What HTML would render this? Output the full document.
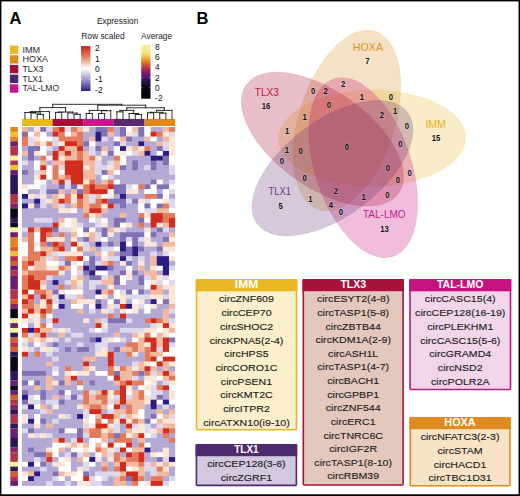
<!DOCTYPE html>
<html><head><meta charset="utf-8"><style>
html,body{margin:0;padding:0;background:#fff;}
body{width:520px;height:496px;overflow:hidden;}
svg{display:block;font-family:"Liberation Sans",sans-serif;}
.n{font-size:8.6px;font-weight:bold;text-anchor:middle;fill:#111;stroke:#fff;stroke-opacity:0.22;stroke-width:1.6px;paint-order:stroke;}
.vl{font-size:10.6px;text-anchor:middle;}
.bh{font-size:10.5px;font-weight:bold;text-anchor:middle;fill:#fff;}
.bt{font-size:9.75px;text-anchor:middle;fill:#1c1c1c;stroke:#1c1c1c;stroke-width:0.13px;}
.lg{font-size:8.2px;fill:#262626;}
.sm{font-size:8.4px;fill:#222;}
.tk{font-size:8.4px;fill:#111;}
</style></head><body>
<svg width="520" height="496" viewBox="0 0 520 496">
<defs>
<linearGradient id="rs" x1="0" y1="0" x2="0" y2="1">
<stop offset="0" stop-color="#c0261e"/><stop offset="0.25" stop-color="#e3866a"/><stop offset="0.5" stop-color="#ffffff"/><stop offset="0.75" stop-color="#9f95cc"/><stop offset="1" stop-color="#2c2084"/>
</linearGradient>
<linearGradient id="av" x1="0" y1="0" x2="0" y2="1">
<stop offset="0" stop-color="#f8efa0"/><stop offset="0.15" stop-color="#f6e68a"/><stop offset="0.22" stop-color="#f0c040"/><stop offset="0.32" stop-color="#e27a20"/><stop offset="0.41" stop-color="#c03a40"/><stop offset="0.5" stop-color="#8a1f68"/><stop offset="0.61" stop-color="#4a1870"/><stop offset="0.72" stop-color="#1c0c3c"/><stop offset="0.8" stop-color="#0a0614"/><stop offset="1" stop-color="#060408"/>
</linearGradient>
</defs>
<rect width="520" height="496" fill="#fff"/>
<text x="9.6" y="24.4" style="font-size:16.5px;font-weight:bold" fill="#000">A</text>
<text x="196.4" y="24.2" style="font-size:16.5px;font-weight:bold" fill="#000">B</text>
<rect x="9.9" y="45.5" width="8.4" height="8.4" fill="#e8b923"/>
<rect x="9.9" y="55.2" width="8.4" height="8.4" fill="#e08a1e"/>
<rect x="9.9" y="64.9" width="8.4" height="8.4" fill="#a50f37"/>
<rect x="9.9" y="74.6" width="8.4" height="8.4" fill="#4b286e"/>
<rect x="9.9" y="84.3" width="8.4" height="8.4" fill="#c8148c"/>
<text x="22.5" y="52.5" class="lg" textLength="17.6" lengthAdjust="spacingAndGlyphs">IMM</text>
<text x="22.5" y="62.2" class="lg" textLength="25.6" lengthAdjust="spacingAndGlyphs">HOXA</text>
<text x="22.5" y="71.9" class="lg" textLength="20.8" lengthAdjust="spacingAndGlyphs">TLX3</text>
<text x="22.5" y="81.6" class="lg" textLength="20.2" lengthAdjust="spacingAndGlyphs">TLX1</text>
<text x="22.5" y="91.3" class="lg" textLength="36.7" lengthAdjust="spacingAndGlyphs">TAL-LMO</text>
<text x="96.9" y="24.1" class="sm">Expression</text>
<text x="81.3" y="39" class="sm">Row scaled</text>
<text x="141.1" y="39" class="sm">Average</text>
<rect x="81" y="46.1" width="9.5" height="44.9" fill="url(#rs)"/>
<g stroke="#fff" stroke-width="0.6" opacity="0.8">
<path d="M81 58.3h1.6M88.9 58.3h1.6M81 69.2h1.6M88.9 69.2h1.6M81 79.6h1.6M88.9 79.6h1.6"/>
</g>
<text x="95.1" y="50.7" class="tk">2</text>
<text x="95.1" y="61.5" class="tk">1</text>
<text x="95.1" y="72" class="tk">0</text>
<text x="95.1" y="82.3" class="tk">-1</text>
<text x="95.1" y="92.7" class="tk">-2</text>
<rect x="141.2" y="44.9" width="9.3" height="53.8" fill="url(#av)"/>
<g stroke="#fff" stroke-width="0.6" opacity="0.7">
<path d="M141.2 56.5h1.6M148.9 56.5h1.6M141.2 67.1h1.6M148.9 67.1h1.6M141.2 77.4h1.6M148.9 77.4h1.6M141.2 87.7h1.6M148.9 87.7h1.6"/>
</g>
<text x="155.1" y="49.7" class="tk">8</text>
<text x="155.1" y="60" class="tk">6</text>
<text x="155.1" y="70.4" class="tk">4</text>
<text x="155.1" y="80.7" class="tk">2</text>
<text x="155.1" y="91" class="tk">0</text>
<text x="155.1" y="100.9" class="tk">-2</text>
<rect x="21.90" y="127.00" width="6.18" height="5.38" fill="#f2b9a0"/>
<rect x="28.03" y="127.00" width="6.18" height="5.38" fill="#b4a8d4"/>
<rect x="34.16" y="127.00" width="6.18" height="5.38" fill="#fce6d6"/>
<rect x="40.28" y="127.00" width="6.18" height="5.38" fill="#8070b4"/>
<rect x="46.41" y="127.00" width="6.18" height="5.38" fill="#ded8ec"/>
<rect x="52.54" y="127.00" width="6.18" height="5.38" fill="#e37a5c"/>
<rect x="58.67" y="127.00" width="6.18" height="5.38" fill="#d02d1e"/>
<rect x="64.80" y="127.00" width="6.18" height="5.38" fill="#ded8ec"/>
<rect x="70.92" y="127.00" width="6.18" height="5.38" fill="#e37a5c"/>
<rect x="77.05" y="127.00" width="6.18" height="5.38" fill="#f2b9a0"/>
<rect x="83.18" y="127.00" width="6.18" height="5.38" fill="#fce6d6"/>
<rect x="89.31" y="127.00" width="6.18" height="5.38" fill="#b4a8d4"/>
<rect x="95.44" y="127.00" width="12.31" height="5.38" fill="#8070b4"/>
<rect x="107.69" y="127.00" width="6.18" height="5.38" fill="#e37a5c"/>
<rect x="113.82" y="127.00" width="6.18" height="5.38" fill="#b4a8d4"/>
<rect x="119.95" y="127.00" width="6.18" height="5.38" fill="#8070b4"/>
<rect x="126.08" y="127.00" width="6.18" height="5.38" fill="#ffffff"/>
<rect x="132.20" y="127.00" width="6.18" height="5.38" fill="#f2b9a0"/>
<rect x="138.33" y="127.00" width="6.18" height="5.38" fill="#8070b4"/>
<rect x="144.46" y="127.00" width="6.18" height="5.38" fill="#ffffff"/>
<rect x="150.59" y="127.00" width="12.31" height="5.38" fill="#b4a8d4"/>
<rect x="162.84" y="127.00" width="6.18" height="5.38" fill="#f2b9a0"/>
<rect x="168.97" y="127.00" width="6.18" height="5.38" fill="#e37a5c"/>
<rect x="21.90" y="131.78" width="6.18" height="5.38" fill="#8070b4"/>
<rect x="28.03" y="131.78" width="6.18" height="5.38" fill="#ffffff"/>
<rect x="34.16" y="131.78" width="6.18" height="5.38" fill="#f2b9a0"/>
<rect x="40.28" y="131.78" width="6.18" height="5.38" fill="#ffffff"/>
<rect x="46.41" y="131.78" width="6.18" height="5.38" fill="#b4a8d4"/>
<rect x="52.54" y="131.78" width="6.18" height="5.38" fill="#d02d1e"/>
<rect x="58.67" y="131.78" width="6.18" height="5.38" fill="#e37a5c"/>
<rect x="64.80" y="131.78" width="6.18" height="5.38" fill="#ffffff"/>
<rect x="70.92" y="131.78" width="6.18" height="5.38" fill="#f2b9a0"/>
<rect x="77.05" y="131.78" width="6.18" height="5.38" fill="#e37a5c"/>
<rect x="83.18" y="131.78" width="12.31" height="5.38" fill="#b4a8d4"/>
<rect x="95.44" y="131.78" width="6.18" height="5.38" fill="#2d1c80"/>
<rect x="101.56" y="131.78" width="6.18" height="5.38" fill="#8070b4"/>
<rect x="107.69" y="131.78" width="6.18" height="5.38" fill="#f2b9a0"/>
<rect x="113.82" y="131.78" width="6.18" height="5.38" fill="#b4a8d4"/>
<rect x="119.95" y="131.78" width="6.18" height="5.38" fill="#8070b4"/>
<rect x="126.08" y="131.78" width="6.18" height="5.38" fill="#fce6d6"/>
<rect x="132.20" y="131.78" width="6.18" height="5.38" fill="#ded8ec"/>
<rect x="138.33" y="131.78" width="6.18" height="5.38" fill="#8070b4"/>
<rect x="144.46" y="131.78" width="6.18" height="5.38" fill="#ffffff"/>
<rect x="150.59" y="131.78" width="6.18" height="5.38" fill="#d02d1e"/>
<rect x="156.72" y="131.78" width="6.18" height="5.38" fill="#e37a5c"/>
<rect x="162.84" y="131.78" width="6.18" height="5.38" fill="#fce6d6"/>
<rect x="168.97" y="131.78" width="6.18" height="5.38" fill="#ded8ec"/>
<rect x="21.90" y="136.57" width="6.18" height="5.38" fill="#e37a5c"/>
<rect x="28.03" y="136.57" width="6.18" height="5.38" fill="#ded8ec"/>
<rect x="34.16" y="136.57" width="6.18" height="5.38" fill="#fce6d6"/>
<rect x="40.28" y="136.57" width="12.31" height="5.38" fill="#ffffff"/>
<rect x="52.54" y="136.57" width="6.18" height="5.38" fill="#ded8ec"/>
<rect x="58.67" y="136.57" width="24.56" height="5.38" fill="#e37a5c"/>
<rect x="83.18" y="136.57" width="6.18" height="5.38" fill="#b4a8d4"/>
<rect x="89.31" y="136.57" width="6.18" height="5.38" fill="#f2b9a0"/>
<rect x="95.44" y="136.57" width="6.18" height="5.38" fill="#2d1c80"/>
<rect x="101.56" y="136.57" width="6.18" height="5.38" fill="#ded8ec"/>
<rect x="107.69" y="136.57" width="6.18" height="5.38" fill="#b4a8d4"/>
<rect x="113.82" y="136.57" width="6.18" height="5.38" fill="#ffffff"/>
<rect x="119.95" y="136.57" width="6.18" height="5.38" fill="#f2b9a0"/>
<rect x="126.08" y="136.57" width="6.18" height="5.38" fill="#8070b4"/>
<rect x="132.20" y="136.57" width="12.31" height="5.38" fill="#b4a8d4"/>
<rect x="144.46" y="136.57" width="6.18" height="5.38" fill="#f2b9a0"/>
<rect x="150.59" y="136.57" width="6.18" height="5.38" fill="#ffffff"/>
<rect x="156.72" y="136.57" width="6.18" height="5.38" fill="#b4a8d4"/>
<rect x="162.84" y="136.57" width="6.18" height="5.38" fill="#f2b9a0"/>
<rect x="168.97" y="136.57" width="6.18" height="5.38" fill="#fce6d6"/>
<rect x="21.90" y="141.35" width="6.18" height="5.38" fill="#e37a5c"/>
<rect x="28.03" y="141.35" width="6.18" height="5.38" fill="#ded8ec"/>
<rect x="34.16" y="141.35" width="6.18" height="5.38" fill="#f2b9a0"/>
<rect x="40.28" y="141.35" width="6.18" height="5.38" fill="#fce6d6"/>
<rect x="46.41" y="141.35" width="6.18" height="5.38" fill="#e37a5c"/>
<rect x="52.54" y="141.35" width="6.18" height="5.38" fill="#ded8ec"/>
<rect x="58.67" y="141.35" width="6.18" height="5.38" fill="#fce6d6"/>
<rect x="64.80" y="141.35" width="12.31" height="5.38" fill="#d02d1e"/>
<rect x="77.05" y="141.35" width="6.18" height="5.38" fill="#e37a5c"/>
<rect x="83.18" y="141.35" width="6.18" height="5.38" fill="#8070b4"/>
<rect x="89.31" y="141.35" width="6.18" height="5.38" fill="#ffffff"/>
<rect x="95.44" y="141.35" width="18.43" height="5.38" fill="#b4a8d4"/>
<rect x="113.82" y="141.35" width="6.18" height="5.38" fill="#8070b4"/>
<rect x="119.95" y="141.35" width="6.18" height="5.38" fill="#ded8ec"/>
<rect x="126.08" y="141.35" width="12.31" height="5.38" fill="#b4a8d4"/>
<rect x="138.33" y="141.35" width="6.18" height="5.38" fill="#2d1c80"/>
<rect x="144.46" y="141.35" width="12.31" height="5.38" fill="#b4a8d4"/>
<rect x="156.72" y="141.35" width="6.18" height="5.38" fill="#f2b9a0"/>
<rect x="162.84" y="141.35" width="6.18" height="5.38" fill="#ded8ec"/>
<rect x="168.97" y="141.35" width="6.18" height="5.38" fill="#fce6d6"/>
<rect x="21.90" y="146.14" width="6.18" height="5.38" fill="#b4a8d4"/>
<rect x="28.03" y="146.14" width="12.31" height="5.38" fill="#8070b4"/>
<rect x="40.28" y="146.14" width="6.18" height="5.38" fill="#ffffff"/>
<rect x="46.41" y="146.14" width="6.18" height="5.38" fill="#ded8ec"/>
<rect x="52.54" y="146.14" width="6.18" height="5.38" fill="#b4a8d4"/>
<rect x="58.67" y="146.14" width="6.18" height="5.38" fill="#d02d1e"/>
<rect x="64.80" y="146.14" width="12.31" height="5.38" fill="#f2b9a0"/>
<rect x="77.05" y="146.14" width="6.18" height="5.38" fill="#d02d1e"/>
<rect x="83.18" y="146.14" width="6.18" height="5.38" fill="#b4a8d4"/>
<rect x="89.31" y="146.14" width="6.18" height="5.38" fill="#ded8ec"/>
<rect x="95.44" y="146.14" width="6.18" height="5.38" fill="#8070b4"/>
<rect x="101.56" y="146.14" width="6.18" height="5.38" fill="#f2b9a0"/>
<rect x="107.69" y="146.14" width="6.18" height="5.38" fill="#b4a8d4"/>
<rect x="113.82" y="146.14" width="6.18" height="5.38" fill="#ffffff"/>
<rect x="119.95" y="146.14" width="6.18" height="5.38" fill="#2d1c80"/>
<rect x="126.08" y="146.14" width="6.18" height="5.38" fill="#fce6d6"/>
<rect x="132.20" y="146.14" width="6.18" height="5.38" fill="#f2b9a0"/>
<rect x="138.33" y="146.14" width="6.18" height="5.38" fill="#fce6d6"/>
<rect x="144.46" y="146.14" width="6.18" height="5.38" fill="#e37a5c"/>
<rect x="150.59" y="146.14" width="6.18" height="5.38" fill="#b4a8d4"/>
<rect x="156.72" y="146.14" width="6.18" height="5.38" fill="#8070b4"/>
<rect x="162.84" y="146.14" width="6.18" height="5.38" fill="#ded8ec"/>
<rect x="168.97" y="146.14" width="6.18" height="5.38" fill="#fce6d6"/>
<rect x="21.90" y="150.92" width="6.18" height="5.38" fill="#f2b9a0"/>
<rect x="28.03" y="150.92" width="6.18" height="5.38" fill="#8070b4"/>
<rect x="34.16" y="150.92" width="6.18" height="5.38" fill="#fce6d6"/>
<rect x="40.28" y="150.92" width="6.18" height="5.38" fill="#ffffff"/>
<rect x="46.41" y="150.92" width="6.18" height="5.38" fill="#b4a8d4"/>
<rect x="52.54" y="150.92" width="6.18" height="5.38" fill="#d02d1e"/>
<rect x="58.67" y="150.92" width="6.18" height="5.38" fill="#f2b9a0"/>
<rect x="64.80" y="150.92" width="6.18" height="5.38" fill="#d02d1e"/>
<rect x="70.92" y="150.92" width="6.18" height="5.38" fill="#f2b9a0"/>
<rect x="77.05" y="150.92" width="6.18" height="5.38" fill="#e37a5c"/>
<rect x="83.18" y="150.92" width="6.18" height="5.38" fill="#f2b9a0"/>
<rect x="89.31" y="150.92" width="6.18" height="5.38" fill="#ded8ec"/>
<rect x="95.44" y="150.92" width="6.18" height="5.38" fill="#b4a8d4"/>
<rect x="101.56" y="150.92" width="6.18" height="5.38" fill="#fce6d6"/>
<rect x="107.69" y="150.92" width="6.18" height="5.38" fill="#8070b4"/>
<rect x="113.82" y="150.92" width="6.18" height="5.38" fill="#ffffff"/>
<rect x="119.95" y="150.92" width="6.18" height="5.38" fill="#fce6d6"/>
<rect x="126.08" y="150.92" width="6.18" height="5.38" fill="#ffffff"/>
<rect x="132.20" y="150.92" width="6.18" height="5.38" fill="#ded8ec"/>
<rect x="138.33" y="150.92" width="6.18" height="5.38" fill="#f2b9a0"/>
<rect x="144.46" y="150.92" width="6.18" height="5.38" fill="#2d1c80"/>
<rect x="150.59" y="150.92" width="6.18" height="5.38" fill="#b4a8d4"/>
<rect x="156.72" y="150.92" width="6.18" height="5.38" fill="#ffffff"/>
<rect x="162.84" y="150.92" width="6.18" height="5.38" fill="#2d1c80"/>
<rect x="168.97" y="150.92" width="6.18" height="5.38" fill="#fce6d6"/>
<rect x="21.90" y="155.70" width="6.18" height="5.38" fill="#b4a8d4"/>
<rect x="28.03" y="155.70" width="6.18" height="5.38" fill="#8070b4"/>
<rect x="34.16" y="155.70" width="6.18" height="5.38" fill="#b4a8d4"/>
<rect x="40.28" y="155.70" width="6.18" height="5.38" fill="#e37a5c"/>
<rect x="46.41" y="155.70" width="6.18" height="5.38" fill="#ffffff"/>
<rect x="52.54" y="155.70" width="6.18" height="5.38" fill="#d02d1e"/>
<rect x="58.67" y="155.70" width="6.18" height="5.38" fill="#fce6d6"/>
<rect x="64.80" y="155.70" width="12.31" height="5.38" fill="#f2b9a0"/>
<rect x="77.05" y="155.70" width="6.18" height="5.38" fill="#e37a5c"/>
<rect x="83.18" y="155.70" width="6.18" height="5.38" fill="#f2b9a0"/>
<rect x="89.31" y="155.70" width="6.18" height="5.38" fill="#e37a5c"/>
<rect x="95.44" y="155.70" width="6.18" height="5.38" fill="#fce6d6"/>
<rect x="101.56" y="155.70" width="12.31" height="5.38" fill="#b4a8d4"/>
<rect x="113.82" y="155.70" width="6.18" height="5.38" fill="#e37a5c"/>
<rect x="119.95" y="155.70" width="6.18" height="5.38" fill="#ffffff"/>
<rect x="126.08" y="155.70" width="24.56" height="5.38" fill="#b4a8d4"/>
<rect x="150.59" y="155.70" width="12.31" height="5.38" fill="#2d1c80"/>
<rect x="162.84" y="155.70" width="6.18" height="5.38" fill="#8070b4"/>
<rect x="168.97" y="155.70" width="6.18" height="5.38" fill="#ffffff"/>
<rect x="21.90" y="160.49" width="6.18" height="5.38" fill="#ded8ec"/>
<rect x="28.03" y="160.49" width="6.18" height="5.38" fill="#b4a8d4"/>
<rect x="34.16" y="160.49" width="6.18" height="5.38" fill="#ffffff"/>
<rect x="40.28" y="160.49" width="6.18" height="5.38" fill="#f2b9a0"/>
<rect x="46.41" y="160.49" width="6.18" height="5.38" fill="#b4a8d4"/>
<rect x="52.54" y="160.49" width="12.31" height="5.38" fill="#f2b9a0"/>
<rect x="64.80" y="160.49" width="18.43" height="5.38" fill="#d02d1e"/>
<rect x="83.18" y="160.49" width="12.31" height="5.38" fill="#f2b9a0"/>
<rect x="95.44" y="160.49" width="6.18" height="5.38" fill="#ded8ec"/>
<rect x="101.56" y="160.49" width="6.18" height="5.38" fill="#b4a8d4"/>
<rect x="107.69" y="160.49" width="6.18" height="5.38" fill="#ded8ec"/>
<rect x="113.82" y="160.49" width="6.18" height="5.38" fill="#f2b9a0"/>
<rect x="119.95" y="160.49" width="6.18" height="5.38" fill="#ffffff"/>
<rect x="126.08" y="160.49" width="6.18" height="5.38" fill="#b4a8d4"/>
<rect x="132.20" y="160.49" width="6.18" height="5.38" fill="#8070b4"/>
<rect x="138.33" y="160.49" width="12.31" height="5.38" fill="#b4a8d4"/>
<rect x="150.59" y="160.49" width="6.18" height="5.38" fill="#8070b4"/>
<rect x="156.72" y="160.49" width="6.18" height="5.38" fill="#b4a8d4"/>
<rect x="162.84" y="160.49" width="6.18" height="5.38" fill="#8070b4"/>
<rect x="168.97" y="160.49" width="6.18" height="5.38" fill="#ffffff"/>
<rect x="21.90" y="165.27" width="12.31" height="5.38" fill="#b4a8d4"/>
<rect x="34.16" y="165.27" width="6.18" height="5.38" fill="#ffffff"/>
<rect x="40.28" y="165.27" width="6.18" height="5.38" fill="#d02d1e"/>
<rect x="46.41" y="165.27" width="6.18" height="5.38" fill="#ffffff"/>
<rect x="52.54" y="165.27" width="6.18" height="5.38" fill="#e37a5c"/>
<rect x="58.67" y="165.27" width="6.18" height="5.38" fill="#ded8ec"/>
<rect x="64.80" y="165.27" width="18.43" height="5.38" fill="#d02d1e"/>
<rect x="83.18" y="165.27" width="6.18" height="5.38" fill="#fce6d6"/>
<rect x="89.31" y="165.27" width="6.18" height="5.38" fill="#f2b9a0"/>
<rect x="95.44" y="165.27" width="12.31" height="5.38" fill="#ded8ec"/>
<rect x="107.69" y="165.27" width="6.18" height="5.38" fill="#fce6d6"/>
<rect x="113.82" y="165.27" width="6.18" height="5.38" fill="#f2b9a0"/>
<rect x="119.95" y="165.27" width="6.18" height="5.38" fill="#8070b4"/>
<rect x="126.08" y="165.27" width="6.18" height="5.38" fill="#b4a8d4"/>
<rect x="132.20" y="165.27" width="6.18" height="5.38" fill="#8070b4"/>
<rect x="138.33" y="165.27" width="6.18" height="5.38" fill="#b4a8d4"/>
<rect x="144.46" y="165.27" width="6.18" height="5.38" fill="#ded8ec"/>
<rect x="150.59" y="165.27" width="6.18" height="5.38" fill="#8070b4"/>
<rect x="156.72" y="165.27" width="12.31" height="5.38" fill="#b4a8d4"/>
<rect x="168.97" y="165.27" width="6.18" height="5.38" fill="#ded8ec"/>
<rect x="21.90" y="170.06" width="6.18" height="5.38" fill="#8070b4"/>
<rect x="28.03" y="170.06" width="6.18" height="5.38" fill="#b4a8d4"/>
<rect x="34.16" y="170.06" width="6.18" height="5.38" fill="#ded8ec"/>
<rect x="40.28" y="170.06" width="6.18" height="5.38" fill="#f2b9a0"/>
<rect x="46.41" y="170.06" width="6.18" height="5.38" fill="#ffffff"/>
<rect x="52.54" y="170.06" width="6.18" height="5.38" fill="#e37a5c"/>
<rect x="58.67" y="170.06" width="6.18" height="5.38" fill="#ffffff"/>
<rect x="64.80" y="170.06" width="18.43" height="5.38" fill="#d02d1e"/>
<rect x="83.18" y="170.06" width="12.31" height="5.38" fill="#f2b9a0"/>
<rect x="95.44" y="170.06" width="6.18" height="5.38" fill="#ded8ec"/>
<rect x="101.56" y="170.06" width="6.18" height="5.38" fill="#8070b4"/>
<rect x="107.69" y="170.06" width="6.18" height="5.38" fill="#f2b9a0"/>
<rect x="113.82" y="170.06" width="6.18" height="5.38" fill="#ffffff"/>
<rect x="119.95" y="170.06" width="49.07" height="5.38" fill="#b4a8d4"/>
<rect x="168.97" y="170.06" width="6.18" height="5.38" fill="#ded8ec"/>
<rect x="21.90" y="174.84" width="12.31" height="5.38" fill="#b4a8d4"/>
<rect x="34.16" y="174.84" width="6.18" height="5.38" fill="#fce6d6"/>
<rect x="40.28" y="174.84" width="6.18" height="5.38" fill="#d02d1e"/>
<rect x="46.41" y="174.84" width="6.18" height="5.38" fill="#ffffff"/>
<rect x="52.54" y="174.84" width="6.18" height="5.38" fill="#e37a5c"/>
<rect x="58.67" y="174.84" width="6.18" height="5.38" fill="#f2b9a0"/>
<rect x="64.80" y="174.84" width="6.18" height="5.38" fill="#e37a5c"/>
<rect x="70.92" y="174.84" width="12.31" height="5.38" fill="#d02d1e"/>
<rect x="83.18" y="174.84" width="12.31" height="5.38" fill="#f2b9a0"/>
<rect x="95.44" y="174.84" width="6.18" height="5.38" fill="#b4a8d4"/>
<rect x="101.56" y="174.84" width="6.18" height="5.38" fill="#ffffff"/>
<rect x="107.69" y="174.84" width="6.18" height="5.38" fill="#ded8ec"/>
<rect x="113.82" y="174.84" width="61.33" height="5.38" fill="#b4a8d4"/>
<rect x="21.90" y="179.62" width="12.31" height="5.38" fill="#b4a8d4"/>
<rect x="34.16" y="179.62" width="12.31" height="5.38" fill="#ffffff"/>
<rect x="46.41" y="179.62" width="6.18" height="5.38" fill="#b4a8d4"/>
<rect x="52.54" y="179.62" width="6.18" height="5.38" fill="#f2b9a0"/>
<rect x="58.67" y="179.62" width="6.18" height="5.38" fill="#d02d1e"/>
<rect x="64.80" y="179.62" width="6.18" height="5.38" fill="#ded8ec"/>
<rect x="70.92" y="179.62" width="12.31" height="5.38" fill="#d02d1e"/>
<rect x="83.18" y="179.62" width="6.18" height="5.38" fill="#fce6d6"/>
<rect x="89.31" y="179.62" width="6.18" height="5.38" fill="#e37a5c"/>
<rect x="95.44" y="179.62" width="6.18" height="5.38" fill="#b4a8d4"/>
<rect x="101.56" y="179.62" width="6.18" height="5.38" fill="#f2b9a0"/>
<rect x="107.69" y="179.62" width="6.18" height="5.38" fill="#e37a5c"/>
<rect x="113.82" y="179.62" width="6.18" height="5.38" fill="#ffffff"/>
<rect x="119.95" y="179.62" width="30.69" height="5.38" fill="#b4a8d4"/>
<rect x="150.59" y="179.62" width="6.18" height="5.38" fill="#8070b4"/>
<rect x="156.72" y="179.62" width="6.18" height="5.38" fill="#ffffff"/>
<rect x="162.84" y="179.62" width="6.18" height="5.38" fill="#b4a8d4"/>
<rect x="168.97" y="179.62" width="6.18" height="5.38" fill="#ded8ec"/>
<rect x="21.90" y="184.41" width="6.18" height="5.38" fill="#fce6d6"/>
<rect x="28.03" y="184.41" width="12.31" height="5.38" fill="#ffffff"/>
<rect x="40.28" y="184.41" width="6.18" height="5.38" fill="#ded8ec"/>
<rect x="46.41" y="184.41" width="12.31" height="5.38" fill="#b4a8d4"/>
<rect x="58.67" y="184.41" width="6.18" height="5.38" fill="#8070b4"/>
<rect x="64.80" y="184.41" width="6.18" height="5.38" fill="#ded8ec"/>
<rect x="70.92" y="184.41" width="6.18" height="5.38" fill="#8070b4"/>
<rect x="77.05" y="184.41" width="6.18" height="5.38" fill="#fce6d6"/>
<rect x="83.18" y="184.41" width="6.18" height="5.38" fill="#e37a5c"/>
<rect x="89.31" y="184.41" width="6.18" height="5.38" fill="#d02d1e"/>
<rect x="95.44" y="184.41" width="12.31" height="5.38" fill="#e37a5c"/>
<rect x="107.69" y="184.41" width="6.18" height="5.38" fill="#d02d1e"/>
<rect x="113.82" y="184.41" width="12.31" height="5.38" fill="#8070b4"/>
<rect x="126.08" y="184.41" width="6.18" height="5.38" fill="#ded8ec"/>
<rect x="132.20" y="184.41" width="6.18" height="5.38" fill="#ffffff"/>
<rect x="138.33" y="184.41" width="6.18" height="5.38" fill="#e37a5c"/>
<rect x="144.46" y="184.41" width="6.18" height="5.38" fill="#8070b4"/>
<rect x="150.59" y="184.41" width="6.18" height="5.38" fill="#ffffff"/>
<rect x="156.72" y="184.41" width="12.31" height="5.38" fill="#8070b4"/>
<rect x="168.97" y="184.41" width="6.18" height="5.38" fill="#ffffff"/>
<rect x="21.90" y="189.19" width="6.18" height="5.38" fill="#ffffff"/>
<rect x="28.03" y="189.19" width="12.31" height="5.38" fill="#b4a8d4"/>
<rect x="40.28" y="189.19" width="6.18" height="5.38" fill="#ded8ec"/>
<rect x="46.41" y="189.19" width="12.31" height="5.38" fill="#8070b4"/>
<rect x="58.67" y="189.19" width="6.18" height="5.38" fill="#f2b9a0"/>
<rect x="64.80" y="189.19" width="6.18" height="5.38" fill="#b4a8d4"/>
<rect x="70.92" y="189.19" width="6.18" height="5.38" fill="#f2b9a0"/>
<rect x="77.05" y="189.19" width="6.18" height="5.38" fill="#8070b4"/>
<rect x="83.18" y="189.19" width="6.18" height="5.38" fill="#e37a5c"/>
<rect x="89.31" y="189.19" width="18.43" height="5.38" fill="#d02d1e"/>
<rect x="107.69" y="189.19" width="6.18" height="5.38" fill="#ffffff"/>
<rect x="113.82" y="189.19" width="12.31" height="5.38" fill="#8070b4"/>
<rect x="126.08" y="189.19" width="12.31" height="5.38" fill="#fce6d6"/>
<rect x="138.33" y="189.19" width="6.18" height="5.38" fill="#b4a8d4"/>
<rect x="144.46" y="189.19" width="12.31" height="5.38" fill="#ffffff"/>
<rect x="156.72" y="189.19" width="6.18" height="5.38" fill="#b4a8d4"/>
<rect x="162.84" y="189.19" width="6.18" height="5.38" fill="#ffffff"/>
<rect x="168.97" y="189.19" width="6.18" height="5.38" fill="#ded8ec"/>
<rect x="21.90" y="193.98" width="6.18" height="5.38" fill="#2d1c80"/>
<rect x="28.03" y="193.98" width="6.18" height="5.38" fill="#fce6d6"/>
<rect x="34.16" y="193.98" width="6.18" height="5.38" fill="#ded8ec"/>
<rect x="40.28" y="193.98" width="6.18" height="5.38" fill="#fce6d6"/>
<rect x="46.41" y="193.98" width="6.18" height="5.38" fill="#b4a8d4"/>
<rect x="52.54" y="193.98" width="6.18" height="5.38" fill="#f2b9a0"/>
<rect x="58.67" y="193.98" width="6.18" height="5.38" fill="#fce6d6"/>
<rect x="64.80" y="193.98" width="6.18" height="5.38" fill="#e37a5c"/>
<rect x="70.92" y="193.98" width="6.18" height="5.38" fill="#fce6d6"/>
<rect x="77.05" y="193.98" width="6.18" height="5.38" fill="#d02d1e"/>
<rect x="83.18" y="193.98" width="6.18" height="5.38" fill="#f2b9a0"/>
<rect x="89.31" y="193.98" width="6.18" height="5.38" fill="#ded8ec"/>
<rect x="95.44" y="193.98" width="6.18" height="5.38" fill="#f2b9a0"/>
<rect x="101.56" y="193.98" width="6.18" height="5.38" fill="#ffffff"/>
<rect x="107.69" y="193.98" width="6.18" height="5.38" fill="#fce6d6"/>
<rect x="113.82" y="193.98" width="6.18" height="5.38" fill="#b4a8d4"/>
<rect x="119.95" y="193.98" width="6.18" height="5.38" fill="#2d1c80"/>
<rect x="126.08" y="193.98" width="18.43" height="5.38" fill="#b4a8d4"/>
<rect x="144.46" y="193.98" width="12.31" height="5.38" fill="#e37a5c"/>
<rect x="156.72" y="193.98" width="6.18" height="5.38" fill="#8070b4"/>
<rect x="162.84" y="193.98" width="6.18" height="5.38" fill="#ffffff"/>
<rect x="168.97" y="193.98" width="6.18" height="5.38" fill="#b4a8d4"/>
<rect x="21.90" y="198.76" width="12.31" height="5.38" fill="#b4a8d4"/>
<rect x="34.16" y="198.76" width="6.18" height="5.38" fill="#2d1c80"/>
<rect x="40.28" y="198.76" width="6.18" height="5.38" fill="#ded8ec"/>
<rect x="46.41" y="198.76" width="6.18" height="5.38" fill="#fce6d6"/>
<rect x="52.54" y="198.76" width="6.18" height="5.38" fill="#f2b9a0"/>
<rect x="58.67" y="198.76" width="6.18" height="5.38" fill="#d02d1e"/>
<rect x="64.80" y="198.76" width="6.18" height="5.38" fill="#e37a5c"/>
<rect x="70.92" y="198.76" width="6.18" height="5.38" fill="#fce6d6"/>
<rect x="77.05" y="198.76" width="6.18" height="5.38" fill="#e37a5c"/>
<rect x="83.18" y="198.76" width="6.18" height="5.38" fill="#f2b9a0"/>
<rect x="89.31" y="198.76" width="6.18" height="5.38" fill="#ded8ec"/>
<rect x="95.44" y="198.76" width="6.18" height="5.38" fill="#e37a5c"/>
<rect x="101.56" y="198.76" width="6.18" height="5.38" fill="#d02d1e"/>
<rect x="107.69" y="198.76" width="18.43" height="5.38" fill="#8070b4"/>
<rect x="126.08" y="198.76" width="6.18" height="5.38" fill="#ded8ec"/>
<rect x="132.20" y="198.76" width="6.18" height="5.38" fill="#8070b4"/>
<rect x="138.33" y="198.76" width="6.18" height="5.38" fill="#fce6d6"/>
<rect x="144.46" y="198.76" width="6.18" height="5.38" fill="#ded8ec"/>
<rect x="150.59" y="198.76" width="12.31" height="5.38" fill="#ffffff"/>
<rect x="162.84" y="198.76" width="6.18" height="5.38" fill="#fce6d6"/>
<rect x="168.97" y="198.76" width="6.18" height="5.38" fill="#ded8ec"/>
<rect x="21.90" y="203.54" width="6.18" height="5.38" fill="#2d1c80"/>
<rect x="28.03" y="203.54" width="6.18" height="5.38" fill="#fce6d6"/>
<rect x="34.16" y="203.54" width="6.18" height="5.38" fill="#8070b4"/>
<rect x="40.28" y="203.54" width="6.18" height="5.38" fill="#ded8ec"/>
<rect x="46.41" y="203.54" width="6.18" height="5.38" fill="#b4a8d4"/>
<rect x="52.54" y="203.54" width="6.18" height="5.38" fill="#f2b9a0"/>
<rect x="58.67" y="203.54" width="6.18" height="5.38" fill="#ded8ec"/>
<rect x="64.80" y="203.54" width="6.18" height="5.38" fill="#b4a8d4"/>
<rect x="70.92" y="203.54" width="6.18" height="5.38" fill="#f2b9a0"/>
<rect x="77.05" y="203.54" width="6.18" height="5.38" fill="#e37a5c"/>
<rect x="83.18" y="203.54" width="6.18" height="5.38" fill="#f2b9a0"/>
<rect x="89.31" y="203.54" width="12.31" height="5.38" fill="#e37a5c"/>
<rect x="101.56" y="203.54" width="6.18" height="5.38" fill="#fce6d6"/>
<rect x="107.69" y="203.54" width="6.18" height="5.38" fill="#d02d1e"/>
<rect x="113.82" y="203.54" width="6.18" height="5.38" fill="#b4a8d4"/>
<rect x="119.95" y="203.54" width="6.18" height="5.38" fill="#8070b4"/>
<rect x="126.08" y="203.54" width="12.31" height="5.38" fill="#b4a8d4"/>
<rect x="138.33" y="203.54" width="6.18" height="5.38" fill="#ffffff"/>
<rect x="144.46" y="203.54" width="6.18" height="5.38" fill="#8070b4"/>
<rect x="150.59" y="203.54" width="6.18" height="5.38" fill="#ffffff"/>
<rect x="156.72" y="203.54" width="6.18" height="5.38" fill="#8070b4"/>
<rect x="162.84" y="203.54" width="6.18" height="5.38" fill="#e37a5c"/>
<rect x="168.97" y="203.54" width="6.18" height="5.38" fill="#ded8ec"/>
<rect x="21.90" y="208.33" width="36.82" height="5.38" fill="#b4a8d4"/>
<rect x="58.67" y="208.33" width="12.31" height="5.38" fill="#fce6d6"/>
<rect x="70.92" y="208.33" width="6.18" height="5.38" fill="#ffffff"/>
<rect x="77.05" y="208.33" width="6.18" height="5.38" fill="#b4a8d4"/>
<rect x="83.18" y="208.33" width="6.18" height="5.38" fill="#f2b9a0"/>
<rect x="89.31" y="208.33" width="12.31" height="5.38" fill="#d02d1e"/>
<rect x="101.56" y="208.33" width="6.18" height="5.38" fill="#f2b9a0"/>
<rect x="107.69" y="208.33" width="30.69" height="5.38" fill="#b4a8d4"/>
<rect x="138.33" y="208.33" width="6.18" height="5.38" fill="#ffffff"/>
<rect x="144.46" y="208.33" width="12.31" height="5.38" fill="#ded8ec"/>
<rect x="156.72" y="208.33" width="12.31" height="5.38" fill="#f2b9a0"/>
<rect x="168.97" y="208.33" width="6.18" height="5.38" fill="#ffffff"/>
<rect x="21.90" y="213.11" width="61.33" height="5.38" fill="#b4a8d4"/>
<rect x="83.18" y="213.11" width="6.18" height="5.38" fill="#e37a5c"/>
<rect x="89.31" y="213.11" width="6.18" height="5.38" fill="#fce6d6"/>
<rect x="95.44" y="213.11" width="6.18" height="5.38" fill="#f2b9a0"/>
<rect x="101.56" y="213.11" width="18.43" height="5.38" fill="#b4a8d4"/>
<rect x="119.95" y="213.11" width="6.18" height="5.38" fill="#f2b9a0"/>
<rect x="126.08" y="213.11" width="12.31" height="5.38" fill="#b4a8d4"/>
<rect x="138.33" y="213.11" width="6.18" height="5.38" fill="#e37a5c"/>
<rect x="144.46" y="213.11" width="6.18" height="5.38" fill="#fce6d6"/>
<rect x="150.59" y="213.11" width="12.31" height="5.38" fill="#d02d1e"/>
<rect x="162.84" y="213.11" width="12.31" height="5.38" fill="#e37a5c"/>
<rect x="21.90" y="217.90" width="12.31" height="5.38" fill="#b4a8d4"/>
<rect x="34.16" y="217.90" width="18.43" height="5.38" fill="#ded8ec"/>
<rect x="52.54" y="217.90" width="6.18" height="5.38" fill="#b4a8d4"/>
<rect x="58.67" y="217.90" width="6.18" height="5.38" fill="#f2b9a0"/>
<rect x="64.80" y="217.90" width="6.18" height="5.38" fill="#ffffff"/>
<rect x="70.92" y="217.90" width="6.18" height="5.38" fill="#fce6d6"/>
<rect x="77.05" y="217.90" width="12.31" height="5.38" fill="#b4a8d4"/>
<rect x="89.31" y="217.90" width="6.18" height="5.38" fill="#ffffff"/>
<rect x="95.44" y="217.90" width="6.18" height="5.38" fill="#ded8ec"/>
<rect x="101.56" y="217.90" width="6.18" height="5.38" fill="#ffffff"/>
<rect x="107.69" y="217.90" width="6.18" height="5.38" fill="#b4a8d4"/>
<rect x="113.82" y="217.90" width="12.31" height="5.38" fill="#8070b4"/>
<rect x="126.08" y="217.90" width="12.31" height="5.38" fill="#b4a8d4"/>
<rect x="138.33" y="217.90" width="6.18" height="5.38" fill="#8070b4"/>
<rect x="144.46" y="217.90" width="6.18" height="5.38" fill="#ffffff"/>
<rect x="150.59" y="217.90" width="12.31" height="5.38" fill="#d02d1e"/>
<rect x="162.84" y="217.90" width="6.18" height="5.38" fill="#e37a5c"/>
<rect x="168.97" y="217.90" width="6.18" height="5.38" fill="#d02d1e"/>
<rect x="21.90" y="222.68" width="30.69" height="5.38" fill="#b4a8d4"/>
<rect x="52.54" y="222.68" width="6.18" height="5.38" fill="#d02d1e"/>
<rect x="58.67" y="222.68" width="6.18" height="5.38" fill="#fce6d6"/>
<rect x="64.80" y="222.68" width="6.18" height="5.38" fill="#ffffff"/>
<rect x="70.92" y="222.68" width="6.18" height="5.38" fill="#fce6d6"/>
<rect x="77.05" y="222.68" width="6.18" height="5.38" fill="#ded8ec"/>
<rect x="83.18" y="222.68" width="12.31" height="5.38" fill="#b4a8d4"/>
<rect x="95.44" y="222.68" width="6.18" height="5.38" fill="#ded8ec"/>
<rect x="101.56" y="222.68" width="6.18" height="5.38" fill="#fce6d6"/>
<rect x="107.69" y="222.68" width="6.18" height="5.38" fill="#b4a8d4"/>
<rect x="113.82" y="222.68" width="6.18" height="5.38" fill="#8070b4"/>
<rect x="119.95" y="222.68" width="6.18" height="5.38" fill="#ffffff"/>
<rect x="126.08" y="222.68" width="6.18" height="5.38" fill="#fce6d6"/>
<rect x="132.20" y="222.68" width="6.18" height="5.38" fill="#b4a8d4"/>
<rect x="138.33" y="222.68" width="6.18" height="5.38" fill="#e37a5c"/>
<rect x="144.46" y="222.68" width="6.18" height="5.38" fill="#b4a8d4"/>
<rect x="150.59" y="222.68" width="6.18" height="5.38" fill="#d02d1e"/>
<rect x="156.72" y="222.68" width="6.18" height="5.38" fill="#fce6d6"/>
<rect x="162.84" y="222.68" width="6.18" height="5.38" fill="#f2b9a0"/>
<rect x="168.97" y="222.68" width="6.18" height="5.38" fill="#d02d1e"/>
<rect x="21.90" y="227.46" width="6.18" height="5.38" fill="#ded8ec"/>
<rect x="28.03" y="227.46" width="6.18" height="5.38" fill="#d02d1e"/>
<rect x="34.16" y="227.46" width="6.18" height="5.38" fill="#f2b9a0"/>
<rect x="40.28" y="227.46" width="12.31" height="5.38" fill="#d02d1e"/>
<rect x="52.54" y="227.46" width="6.18" height="5.38" fill="#8070b4"/>
<rect x="58.67" y="227.46" width="12.31" height="5.38" fill="#ded8ec"/>
<rect x="70.92" y="227.46" width="6.18" height="5.38" fill="#fce6d6"/>
<rect x="77.05" y="227.46" width="6.18" height="5.38" fill="#ffffff"/>
<rect x="83.18" y="227.46" width="6.18" height="5.38" fill="#8070b4"/>
<rect x="89.31" y="227.46" width="6.18" height="5.38" fill="#ffffff"/>
<rect x="95.44" y="227.46" width="6.18" height="5.38" fill="#b4a8d4"/>
<rect x="101.56" y="227.46" width="6.18" height="5.38" fill="#8070b4"/>
<rect x="107.69" y="227.46" width="6.18" height="5.38" fill="#f2b9a0"/>
<rect x="113.82" y="227.46" width="6.18" height="5.38" fill="#fce6d6"/>
<rect x="119.95" y="227.46" width="6.18" height="5.38" fill="#ded8ec"/>
<rect x="126.08" y="227.46" width="18.43" height="5.38" fill="#b4a8d4"/>
<rect x="144.46" y="227.46" width="6.18" height="5.38" fill="#fce6d6"/>
<rect x="150.59" y="227.46" width="6.18" height="5.38" fill="#b4a8d4"/>
<rect x="156.72" y="227.46" width="6.18" height="5.38" fill="#8070b4"/>
<rect x="162.84" y="227.46" width="6.18" height="5.38" fill="#ded8ec"/>
<rect x="168.97" y="227.46" width="6.18" height="5.38" fill="#b4a8d4"/>
<rect x="21.90" y="232.25" width="6.18" height="5.38" fill="#b4a8d4"/>
<rect x="28.03" y="232.25" width="6.18" height="5.38" fill="#e37a5c"/>
<rect x="34.16" y="232.25" width="6.18" height="5.38" fill="#ffffff"/>
<rect x="40.28" y="232.25" width="6.18" height="5.38" fill="#d02d1e"/>
<rect x="46.41" y="232.25" width="6.18" height="5.38" fill="#e37a5c"/>
<rect x="52.54" y="232.25" width="6.18" height="5.38" fill="#b4a8d4"/>
<rect x="58.67" y="232.25" width="6.18" height="5.38" fill="#e37a5c"/>
<rect x="64.80" y="232.25" width="6.18" height="5.38" fill="#b4a8d4"/>
<rect x="70.92" y="232.25" width="6.18" height="5.38" fill="#f2b9a0"/>
<rect x="77.05" y="232.25" width="6.18" height="5.38" fill="#ffffff"/>
<rect x="83.18" y="232.25" width="6.18" height="5.38" fill="#fce6d6"/>
<rect x="89.31" y="232.25" width="6.18" height="5.38" fill="#f2b9a0"/>
<rect x="95.44" y="232.25" width="6.18" height="5.38" fill="#ded8ec"/>
<rect x="101.56" y="232.25" width="6.18" height="5.38" fill="#8070b4"/>
<rect x="107.69" y="232.25" width="6.18" height="5.38" fill="#fce6d6"/>
<rect x="113.82" y="232.25" width="6.18" height="5.38" fill="#b4a8d4"/>
<rect x="119.95" y="232.25" width="24.56" height="5.38" fill="#8070b4"/>
<rect x="144.46" y="232.25" width="6.18" height="5.38" fill="#ffffff"/>
<rect x="150.59" y="232.25" width="6.18" height="5.38" fill="#8070b4"/>
<rect x="156.72" y="232.25" width="12.31" height="5.38" fill="#b4a8d4"/>
<rect x="168.97" y="232.25" width="6.18" height="5.38" fill="#f2b9a0"/>
<rect x="21.90" y="237.03" width="6.18" height="5.38" fill="#f2b9a0"/>
<rect x="28.03" y="237.03" width="6.18" height="5.38" fill="#e37a5c"/>
<rect x="34.16" y="237.03" width="6.18" height="5.38" fill="#ffffff"/>
<rect x="40.28" y="237.03" width="6.18" height="5.38" fill="#d02d1e"/>
<rect x="46.41" y="237.03" width="18.43" height="5.38" fill="#fce6d6"/>
<rect x="64.80" y="237.03" width="6.18" height="5.38" fill="#b4a8d4"/>
<rect x="70.92" y="237.03" width="6.18" height="5.38" fill="#fce6d6"/>
<rect x="77.05" y="237.03" width="6.18" height="5.38" fill="#b4a8d4"/>
<rect x="83.18" y="237.03" width="6.18" height="5.38" fill="#8070b4"/>
<rect x="89.31" y="237.03" width="6.18" height="5.38" fill="#f2b9a0"/>
<rect x="95.44" y="237.03" width="6.18" height="5.38" fill="#ded8ec"/>
<rect x="101.56" y="237.03" width="6.18" height="5.38" fill="#ffffff"/>
<rect x="107.69" y="237.03" width="12.31" height="5.38" fill="#b4a8d4"/>
<rect x="119.95" y="237.03" width="6.18" height="5.38" fill="#8070b4"/>
<rect x="126.08" y="237.03" width="6.18" height="5.38" fill="#ded8ec"/>
<rect x="132.20" y="237.03" width="6.18" height="5.38" fill="#8070b4"/>
<rect x="138.33" y="237.03" width="6.18" height="5.38" fill="#ded8ec"/>
<rect x="144.46" y="237.03" width="6.18" height="5.38" fill="#fce6d6"/>
<rect x="150.59" y="237.03" width="12.31" height="5.38" fill="#b4a8d4"/>
<rect x="162.84" y="237.03" width="6.18" height="5.38" fill="#8070b4"/>
<rect x="168.97" y="237.03" width="6.18" height="5.38" fill="#fce6d6"/>
<rect x="21.90" y="241.82" width="6.18" height="5.38" fill="#ffffff"/>
<rect x="28.03" y="241.82" width="6.18" height="5.38" fill="#e37a5c"/>
<rect x="34.16" y="241.82" width="6.18" height="5.38" fill="#fce6d6"/>
<rect x="40.28" y="241.82" width="6.18" height="5.38" fill="#e37a5c"/>
<rect x="46.41" y="241.82" width="6.18" height="5.38" fill="#8070b4"/>
<rect x="52.54" y="241.82" width="6.18" height="5.38" fill="#d02d1e"/>
<rect x="58.67" y="241.82" width="6.18" height="5.38" fill="#e37a5c"/>
<rect x="64.80" y="241.82" width="6.18" height="5.38" fill="#b4a8d4"/>
<rect x="70.92" y="241.82" width="6.18" height="5.38" fill="#d02d1e"/>
<rect x="77.05" y="241.82" width="6.18" height="5.38" fill="#fce6d6"/>
<rect x="83.18" y="241.82" width="6.18" height="5.38" fill="#ded8ec"/>
<rect x="89.31" y="241.82" width="6.18" height="5.38" fill="#b4a8d4"/>
<rect x="95.44" y="241.82" width="6.18" height="5.38" fill="#2d1c80"/>
<rect x="101.56" y="241.82" width="6.18" height="5.38" fill="#b4a8d4"/>
<rect x="107.69" y="241.82" width="6.18" height="5.38" fill="#8070b4"/>
<rect x="113.82" y="241.82" width="6.18" height="5.38" fill="#b4a8d4"/>
<rect x="119.95" y="241.82" width="6.18" height="5.38" fill="#2d1c80"/>
<rect x="126.08" y="241.82" width="6.18" height="5.38" fill="#ffffff"/>
<rect x="132.20" y="241.82" width="6.18" height="5.38" fill="#8070b4"/>
<rect x="138.33" y="241.82" width="6.18" height="5.38" fill="#b4a8d4"/>
<rect x="144.46" y="241.82" width="12.31" height="5.38" fill="#fce6d6"/>
<rect x="156.72" y="241.82" width="6.18" height="5.38" fill="#b4a8d4"/>
<rect x="162.84" y="241.82" width="12.31" height="5.38" fill="#f2b9a0"/>
<rect x="21.90" y="246.60" width="6.18" height="5.38" fill="#ffffff"/>
<rect x="28.03" y="246.60" width="6.18" height="5.38" fill="#e37a5c"/>
<rect x="34.16" y="246.60" width="6.18" height="5.38" fill="#ffffff"/>
<rect x="40.28" y="246.60" width="12.31" height="5.38" fill="#f2b9a0"/>
<rect x="52.54" y="246.60" width="6.18" height="5.38" fill="#e37a5c"/>
<rect x="58.67" y="246.60" width="6.18" height="5.38" fill="#d02d1e"/>
<rect x="64.80" y="246.60" width="6.18" height="5.38" fill="#b4a8d4"/>
<rect x="70.92" y="246.60" width="6.18" height="5.38" fill="#ffffff"/>
<rect x="77.05" y="246.60" width="6.18" height="5.38" fill="#e37a5c"/>
<rect x="83.18" y="246.60" width="6.18" height="5.38" fill="#ded8ec"/>
<rect x="89.31" y="246.60" width="6.18" height="5.38" fill="#f2b9a0"/>
<rect x="95.44" y="246.60" width="6.18" height="5.38" fill="#b4a8d4"/>
<rect x="101.56" y="246.60" width="12.31" height="5.38" fill="#ded8ec"/>
<rect x="113.82" y="246.60" width="6.18" height="5.38" fill="#ffffff"/>
<rect x="119.95" y="246.60" width="6.18" height="5.38" fill="#2d1c80"/>
<rect x="126.08" y="246.60" width="6.18" height="5.38" fill="#8070b4"/>
<rect x="132.20" y="246.60" width="6.18" height="5.38" fill="#2d1c80"/>
<rect x="138.33" y="246.60" width="6.18" height="5.38" fill="#8070b4"/>
<rect x="144.46" y="246.60" width="12.31" height="5.38" fill="#b4a8d4"/>
<rect x="156.72" y="246.60" width="6.18" height="5.38" fill="#8070b4"/>
<rect x="162.84" y="246.60" width="12.31" height="5.38" fill="#fce6d6"/>
<rect x="21.90" y="251.38" width="6.18" height="5.38" fill="#ffffff"/>
<rect x="28.03" y="251.38" width="12.31" height="5.38" fill="#e37a5c"/>
<rect x="40.28" y="251.38" width="6.18" height="5.38" fill="#d02d1e"/>
<rect x="46.41" y="251.38" width="6.18" height="5.38" fill="#f2b9a0"/>
<rect x="52.54" y="251.38" width="6.18" height="5.38" fill="#ded8ec"/>
<rect x="58.67" y="251.38" width="24.56" height="5.38" fill="#fce6d6"/>
<rect x="83.18" y="251.38" width="12.31" height="5.38" fill="#b4a8d4"/>
<rect x="95.44" y="251.38" width="6.18" height="5.38" fill="#f2b9a0"/>
<rect x="101.56" y="251.38" width="6.18" height="5.38" fill="#ffffff"/>
<rect x="107.69" y="251.38" width="6.18" height="5.38" fill="#f2b9a0"/>
<rect x="113.82" y="251.38" width="6.18" height="5.38" fill="#b4a8d4"/>
<rect x="119.95" y="251.38" width="12.31" height="5.38" fill="#8070b4"/>
<rect x="132.20" y="251.38" width="6.18" height="5.38" fill="#2d1c80"/>
<rect x="138.33" y="251.38" width="12.31" height="5.38" fill="#b4a8d4"/>
<rect x="150.59" y="251.38" width="6.18" height="5.38" fill="#ded8ec"/>
<rect x="156.72" y="251.38" width="6.18" height="5.38" fill="#b4a8d4"/>
<rect x="162.84" y="251.38" width="6.18" height="5.38" fill="#ded8ec"/>
<rect x="168.97" y="251.38" width="6.18" height="5.38" fill="#ffffff"/>
<rect x="21.90" y="256.17" width="6.18" height="5.38" fill="#f2b9a0"/>
<rect x="28.03" y="256.17" width="12.31" height="5.38" fill="#e37a5c"/>
<rect x="40.28" y="256.17" width="6.18" height="5.38" fill="#f2b9a0"/>
<rect x="46.41" y="256.17" width="6.18" height="5.38" fill="#ded8ec"/>
<rect x="52.54" y="256.17" width="6.18" height="5.38" fill="#f2b9a0"/>
<rect x="58.67" y="256.17" width="6.18" height="5.38" fill="#b4a8d4"/>
<rect x="64.80" y="256.17" width="12.31" height="5.38" fill="#e37a5c"/>
<rect x="77.05" y="256.17" width="6.18" height="5.38" fill="#d02d1e"/>
<rect x="83.18" y="256.17" width="6.18" height="5.38" fill="#ffffff"/>
<rect x="89.31" y="256.17" width="6.18" height="5.38" fill="#8070b4"/>
<rect x="95.44" y="256.17" width="6.18" height="5.38" fill="#b4a8d4"/>
<rect x="101.56" y="256.17" width="6.18" height="5.38" fill="#fce6d6"/>
<rect x="107.69" y="256.17" width="12.31" height="5.38" fill="#ded8ec"/>
<rect x="119.95" y="256.17" width="6.18" height="5.38" fill="#2d1c80"/>
<rect x="126.08" y="256.17" width="6.18" height="5.38" fill="#ded8ec"/>
<rect x="132.20" y="256.17" width="6.18" height="5.38" fill="#b4a8d4"/>
<rect x="138.33" y="256.17" width="6.18" height="5.38" fill="#ded8ec"/>
<rect x="144.46" y="256.17" width="6.18" height="5.38" fill="#b4a8d4"/>
<rect x="150.59" y="256.17" width="6.18" height="5.38" fill="#f2b9a0"/>
<rect x="156.72" y="256.17" width="12.31" height="5.38" fill="#2d1c80"/>
<rect x="168.97" y="256.17" width="6.18" height="5.38" fill="#fce6d6"/>
<rect x="21.90" y="260.95" width="6.18" height="5.38" fill="#e37a5c"/>
<rect x="28.03" y="260.95" width="6.18" height="5.38" fill="#d02d1e"/>
<rect x="34.16" y="260.95" width="12.31" height="5.38" fill="#f2b9a0"/>
<rect x="46.41" y="260.95" width="12.31" height="5.38" fill="#ffffff"/>
<rect x="58.67" y="260.95" width="6.18" height="5.38" fill="#ded8ec"/>
<rect x="64.80" y="260.95" width="6.18" height="5.38" fill="#8070b4"/>
<rect x="70.92" y="260.95" width="6.18" height="5.38" fill="#fce6d6"/>
<rect x="77.05" y="260.95" width="6.18" height="5.38" fill="#ffffff"/>
<rect x="83.18" y="260.95" width="6.18" height="5.38" fill="#b4a8d4"/>
<rect x="89.31" y="260.95" width="6.18" height="5.38" fill="#8070b4"/>
<rect x="95.44" y="260.95" width="6.18" height="5.38" fill="#ded8ec"/>
<rect x="101.56" y="260.95" width="6.18" height="5.38" fill="#f2b9a0"/>
<rect x="107.69" y="260.95" width="6.18" height="5.38" fill="#e37a5c"/>
<rect x="113.82" y="260.95" width="6.18" height="5.38" fill="#b4a8d4"/>
<rect x="119.95" y="260.95" width="6.18" height="5.38" fill="#fce6d6"/>
<rect x="126.08" y="260.95" width="6.18" height="5.38" fill="#8070b4"/>
<rect x="132.20" y="260.95" width="6.18" height="5.38" fill="#b4a8d4"/>
<rect x="138.33" y="260.95" width="6.18" height="5.38" fill="#fce6d6"/>
<rect x="144.46" y="260.95" width="6.18" height="5.38" fill="#b4a8d4"/>
<rect x="150.59" y="260.95" width="6.18" height="5.38" fill="#f2b9a0"/>
<rect x="156.72" y="260.95" width="12.31" height="5.38" fill="#2d1c80"/>
<rect x="168.97" y="260.95" width="6.18" height="5.38" fill="#b4a8d4"/>
<rect x="21.90" y="265.74" width="6.18" height="5.38" fill="#e37a5c"/>
<rect x="28.03" y="265.74" width="6.18" height="5.38" fill="#fce6d6"/>
<rect x="34.16" y="265.74" width="12.31" height="5.38" fill="#f2b9a0"/>
<rect x="46.41" y="265.74" width="12.31" height="5.38" fill="#fce6d6"/>
<rect x="58.67" y="265.74" width="6.18" height="5.38" fill="#e37a5c"/>
<rect x="64.80" y="265.74" width="6.18" height="5.38" fill="#f2b9a0"/>
<rect x="70.92" y="265.74" width="6.18" height="5.38" fill="#ffffff"/>
<rect x="77.05" y="265.74" width="6.18" height="5.38" fill="#f2b9a0"/>
<rect x="83.18" y="265.74" width="6.18" height="5.38" fill="#2d1c80"/>
<rect x="89.31" y="265.74" width="6.18" height="5.38" fill="#8070b4"/>
<rect x="95.44" y="265.74" width="12.31" height="5.38" fill="#2d1c80"/>
<rect x="107.69" y="265.74" width="6.18" height="5.38" fill="#8070b4"/>
<rect x="113.82" y="265.74" width="12.31" height="5.38" fill="#b4a8d4"/>
<rect x="126.08" y="265.74" width="6.18" height="5.38" fill="#ffffff"/>
<rect x="132.20" y="265.74" width="6.18" height="5.38" fill="#b4a8d4"/>
<rect x="138.33" y="265.74" width="6.18" height="5.38" fill="#f2b9a0"/>
<rect x="144.46" y="265.74" width="6.18" height="5.38" fill="#b4a8d4"/>
<rect x="150.59" y="265.74" width="6.18" height="5.38" fill="#fce6d6"/>
<rect x="156.72" y="265.74" width="6.18" height="5.38" fill="#ffffff"/>
<rect x="162.84" y="265.74" width="6.18" height="5.38" fill="#2d1c80"/>
<rect x="168.97" y="265.74" width="6.18" height="5.38" fill="#ded8ec"/>
<rect x="21.90" y="270.52" width="6.18" height="5.38" fill="#f2b9a0"/>
<rect x="28.03" y="270.52" width="30.69" height="5.38" fill="#e37a5c"/>
<rect x="58.67" y="270.52" width="6.18" height="5.38" fill="#fce6d6"/>
<rect x="64.80" y="270.52" width="6.18" height="5.38" fill="#b4a8d4"/>
<rect x="70.92" y="270.52" width="6.18" height="5.38" fill="#ffffff"/>
<rect x="77.05" y="270.52" width="6.18" height="5.38" fill="#ded8ec"/>
<rect x="83.18" y="270.52" width="6.18" height="5.38" fill="#8070b4"/>
<rect x="89.31" y="270.52" width="6.18" height="5.38" fill="#2d1c80"/>
<rect x="95.44" y="270.52" width="12.31" height="5.38" fill="#ffffff"/>
<rect x="107.69" y="270.52" width="12.31" height="5.38" fill="#b4a8d4"/>
<rect x="119.95" y="270.52" width="6.18" height="5.38" fill="#8070b4"/>
<rect x="126.08" y="270.52" width="6.18" height="5.38" fill="#fce6d6"/>
<rect x="132.20" y="270.52" width="6.18" height="5.38" fill="#8070b4"/>
<rect x="138.33" y="270.52" width="6.18" height="5.38" fill="#b4a8d4"/>
<rect x="144.46" y="270.52" width="12.31" height="5.38" fill="#f2b9a0"/>
<rect x="156.72" y="270.52" width="6.18" height="5.38" fill="#b4a8d4"/>
<rect x="162.84" y="270.52" width="6.18" height="5.38" fill="#2d1c80"/>
<rect x="168.97" y="270.52" width="6.18" height="5.38" fill="#ffffff"/>
<rect x="21.90" y="275.30" width="6.18" height="5.38" fill="#e37a5c"/>
<rect x="28.03" y="275.30" width="6.18" height="5.38" fill="#d02d1e"/>
<rect x="34.16" y="275.30" width="12.31" height="5.38" fill="#e37a5c"/>
<rect x="46.41" y="275.30" width="6.18" height="5.38" fill="#ded8ec"/>
<rect x="52.54" y="275.30" width="18.43" height="5.38" fill="#b4a8d4"/>
<rect x="70.92" y="275.30" width="6.18" height="5.38" fill="#fce6d6"/>
<rect x="77.05" y="275.30" width="6.18" height="5.38" fill="#f2b9a0"/>
<rect x="83.18" y="275.30" width="6.18" height="5.38" fill="#b4a8d4"/>
<rect x="89.31" y="275.30" width="12.31" height="5.38" fill="#8070b4"/>
<rect x="101.56" y="275.30" width="6.18" height="5.38" fill="#ded8ec"/>
<rect x="107.69" y="275.30" width="6.18" height="5.38" fill="#f2b9a0"/>
<rect x="113.82" y="275.30" width="6.18" height="5.38" fill="#8070b4"/>
<rect x="119.95" y="275.30" width="6.18" height="5.38" fill="#ffffff"/>
<rect x="126.08" y="275.30" width="6.18" height="5.38" fill="#fce6d6"/>
<rect x="132.20" y="275.30" width="6.18" height="5.38" fill="#b4a8d4"/>
<rect x="138.33" y="275.30" width="6.18" height="5.38" fill="#8070b4"/>
<rect x="144.46" y="275.30" width="6.18" height="5.38" fill="#ded8ec"/>
<rect x="150.59" y="275.30" width="6.18" height="5.38" fill="#f2b9a0"/>
<rect x="156.72" y="275.30" width="6.18" height="5.38" fill="#fce6d6"/>
<rect x="162.84" y="275.30" width="6.18" height="5.38" fill="#ded8ec"/>
<rect x="168.97" y="275.30" width="6.18" height="5.38" fill="#ffffff"/>
<rect x="21.90" y="280.09" width="6.18" height="5.38" fill="#e37a5c"/>
<rect x="28.03" y="280.09" width="12.31" height="5.38" fill="#d02d1e"/>
<rect x="40.28" y="280.09" width="6.18" height="5.38" fill="#f2b9a0"/>
<rect x="46.41" y="280.09" width="6.18" height="5.38" fill="#b4a8d4"/>
<rect x="52.54" y="280.09" width="6.18" height="5.38" fill="#2d1c80"/>
<rect x="58.67" y="280.09" width="6.18" height="5.38" fill="#b4a8d4"/>
<rect x="64.80" y="280.09" width="6.18" height="5.38" fill="#ded8ec"/>
<rect x="70.92" y="280.09" width="6.18" height="5.38" fill="#f2b9a0"/>
<rect x="77.05" y="280.09" width="6.18" height="5.38" fill="#fce6d6"/>
<rect x="83.18" y="280.09" width="6.18" height="5.38" fill="#b4a8d4"/>
<rect x="89.31" y="280.09" width="12.31" height="5.38" fill="#ded8ec"/>
<rect x="101.56" y="280.09" width="12.31" height="5.38" fill="#f2b9a0"/>
<rect x="113.82" y="280.09" width="6.18" height="5.38" fill="#8070b4"/>
<rect x="119.95" y="280.09" width="6.18" height="5.38" fill="#ffffff"/>
<rect x="126.08" y="280.09" width="12.31" height="5.38" fill="#b4a8d4"/>
<rect x="138.33" y="280.09" width="6.18" height="5.38" fill="#8070b4"/>
<rect x="144.46" y="280.09" width="6.18" height="5.38" fill="#ffffff"/>
<rect x="150.59" y="280.09" width="6.18" height="5.38" fill="#fce6d6"/>
<rect x="156.72" y="280.09" width="6.18" height="5.38" fill="#ded8ec"/>
<rect x="162.84" y="280.09" width="6.18" height="5.38" fill="#ffffff"/>
<rect x="168.97" y="280.09" width="6.18" height="5.38" fill="#ded8ec"/>
<rect x="21.90" y="284.87" width="6.18" height="5.38" fill="#e37a5c"/>
<rect x="28.03" y="284.87" width="12.31" height="5.38" fill="#d02d1e"/>
<rect x="40.28" y="284.87" width="6.18" height="5.38" fill="#fce6d6"/>
<rect x="46.41" y="284.87" width="12.31" height="5.38" fill="#b4a8d4"/>
<rect x="58.67" y="284.87" width="6.18" height="5.38" fill="#e37a5c"/>
<rect x="64.80" y="284.87" width="6.18" height="5.38" fill="#b4a8d4"/>
<rect x="70.92" y="284.87" width="6.18" height="5.38" fill="#f2b9a0"/>
<rect x="77.05" y="284.87" width="6.18" height="5.38" fill="#ded8ec"/>
<rect x="83.18" y="284.87" width="6.18" height="5.38" fill="#b4a8d4"/>
<rect x="89.31" y="284.87" width="6.18" height="5.38" fill="#ded8ec"/>
<rect x="95.44" y="284.87" width="12.31" height="5.38" fill="#b4a8d4"/>
<rect x="107.69" y="284.87" width="6.18" height="5.38" fill="#fce6d6"/>
<rect x="113.82" y="284.87" width="30.69" height="5.38" fill="#b4a8d4"/>
<rect x="144.46" y="284.87" width="6.18" height="5.38" fill="#ffffff"/>
<rect x="150.59" y="284.87" width="6.18" height="5.38" fill="#d02d1e"/>
<rect x="156.72" y="284.87" width="6.18" height="5.38" fill="#f2b9a0"/>
<rect x="162.84" y="284.87" width="12.31" height="5.38" fill="#fce6d6"/>
<rect x="21.90" y="289.66" width="6.18" height="5.38" fill="#d02d1e"/>
<rect x="28.03" y="289.66" width="6.18" height="5.38" fill="#ffffff"/>
<rect x="34.16" y="289.66" width="12.31" height="5.38" fill="#e37a5c"/>
<rect x="46.41" y="289.66" width="6.18" height="5.38" fill="#f2b9a0"/>
<rect x="52.54" y="289.66" width="6.18" height="5.38" fill="#8070b4"/>
<rect x="58.67" y="289.66" width="6.18" height="5.38" fill="#fce6d6"/>
<rect x="64.80" y="289.66" width="18.43" height="5.38" fill="#ffffff"/>
<rect x="83.18" y="289.66" width="12.31" height="5.38" fill="#b4a8d4"/>
<rect x="95.44" y="289.66" width="6.18" height="5.38" fill="#2d1c80"/>
<rect x="101.56" y="289.66" width="6.18" height="5.38" fill="#f2b9a0"/>
<rect x="107.69" y="289.66" width="6.18" height="5.38" fill="#e37a5c"/>
<rect x="113.82" y="289.66" width="6.18" height="5.38" fill="#ffffff"/>
<rect x="119.95" y="289.66" width="6.18" height="5.38" fill="#ded8ec"/>
<rect x="126.08" y="289.66" width="6.18" height="5.38" fill="#8070b4"/>
<rect x="132.20" y="289.66" width="6.18" height="5.38" fill="#ffffff"/>
<rect x="138.33" y="289.66" width="6.18" height="5.38" fill="#8070b4"/>
<rect x="144.46" y="289.66" width="6.18" height="5.38" fill="#b4a8d4"/>
<rect x="150.59" y="289.66" width="12.31" height="5.38" fill="#f2b9a0"/>
<rect x="162.84" y="289.66" width="6.18" height="5.38" fill="#b4a8d4"/>
<rect x="168.97" y="289.66" width="6.18" height="5.38" fill="#fce6d6"/>
<rect x="21.90" y="294.44" width="6.18" height="5.38" fill="#f2b9a0"/>
<rect x="28.03" y="294.44" width="6.18" height="5.38" fill="#d02d1e"/>
<rect x="34.16" y="294.44" width="6.18" height="5.38" fill="#b4a8d4"/>
<rect x="40.28" y="294.44" width="6.18" height="5.38" fill="#d02d1e"/>
<rect x="46.41" y="294.44" width="6.18" height="5.38" fill="#f2b9a0"/>
<rect x="52.54" y="294.44" width="6.18" height="5.38" fill="#ded8ec"/>
<rect x="58.67" y="294.44" width="6.18" height="5.38" fill="#2d1c80"/>
<rect x="64.80" y="294.44" width="12.31" height="5.38" fill="#ded8ec"/>
<rect x="77.05" y="294.44" width="6.18" height="5.38" fill="#f2b9a0"/>
<rect x="83.18" y="294.44" width="12.31" height="5.38" fill="#b4a8d4"/>
<rect x="95.44" y="294.44" width="6.18" height="5.38" fill="#ffffff"/>
<rect x="101.56" y="294.44" width="6.18" height="5.38" fill="#fce6d6"/>
<rect x="107.69" y="294.44" width="6.18" height="5.38" fill="#b4a8d4"/>
<rect x="113.82" y="294.44" width="6.18" height="5.38" fill="#ffffff"/>
<rect x="119.95" y="294.44" width="6.18" height="5.38" fill="#fce6d6"/>
<rect x="126.08" y="294.44" width="24.56" height="5.38" fill="#ded8ec"/>
<rect x="150.59" y="294.44" width="12.31" height="5.38" fill="#fce6d6"/>
<rect x="162.84" y="294.44" width="6.18" height="5.38" fill="#ded8ec"/>
<rect x="168.97" y="294.44" width="6.18" height="5.38" fill="#fce6d6"/>
<rect x="21.90" y="299.22" width="6.18" height="5.38" fill="#d02d1e"/>
<rect x="28.03" y="299.22" width="6.18" height="5.38" fill="#e37a5c"/>
<rect x="34.16" y="299.22" width="6.18" height="5.38" fill="#b4a8d4"/>
<rect x="40.28" y="299.22" width="6.18" height="5.38" fill="#fce6d6"/>
<rect x="46.41" y="299.22" width="6.18" height="5.38" fill="#d02d1e"/>
<rect x="52.54" y="299.22" width="6.18" height="5.38" fill="#ded8ec"/>
<rect x="58.67" y="299.22" width="12.31" height="5.38" fill="#b4a8d4"/>
<rect x="70.92" y="299.22" width="6.18" height="5.38" fill="#f2b9a0"/>
<rect x="77.05" y="299.22" width="18.43" height="5.38" fill="#fce6d6"/>
<rect x="95.44" y="299.22" width="6.18" height="5.38" fill="#8070b4"/>
<rect x="101.56" y="299.22" width="6.18" height="5.38" fill="#b4a8d4"/>
<rect x="107.69" y="299.22" width="6.18" height="5.38" fill="#ffffff"/>
<rect x="113.82" y="299.22" width="6.18" height="5.38" fill="#8070b4"/>
<rect x="119.95" y="299.22" width="6.18" height="5.38" fill="#fce6d6"/>
<rect x="126.08" y="299.22" width="6.18" height="5.38" fill="#b4a8d4"/>
<rect x="132.20" y="299.22" width="6.18" height="5.38" fill="#ffffff"/>
<rect x="138.33" y="299.22" width="6.18" height="5.38" fill="#fce6d6"/>
<rect x="144.46" y="299.22" width="6.18" height="5.38" fill="#b4a8d4"/>
<rect x="150.59" y="299.22" width="6.18" height="5.38" fill="#2d1c80"/>
<rect x="156.72" y="299.22" width="6.18" height="5.38" fill="#ffffff"/>
<rect x="162.84" y="299.22" width="6.18" height="5.38" fill="#8070b4"/>
<rect x="168.97" y="299.22" width="6.18" height="5.38" fill="#fce6d6"/>
<rect x="21.90" y="304.01" width="12.31" height="5.38" fill="#e37a5c"/>
<rect x="34.16" y="304.01" width="6.18" height="5.38" fill="#f2b9a0"/>
<rect x="40.28" y="304.01" width="6.18" height="5.38" fill="#fce6d6"/>
<rect x="46.41" y="304.01" width="6.18" height="5.38" fill="#e37a5c"/>
<rect x="52.54" y="304.01" width="6.18" height="5.38" fill="#ffffff"/>
<rect x="58.67" y="304.01" width="6.18" height="5.38" fill="#2d1c80"/>
<rect x="64.80" y="304.01" width="6.18" height="5.38" fill="#b4a8d4"/>
<rect x="70.92" y="304.01" width="12.31" height="5.38" fill="#ffffff"/>
<rect x="83.18" y="304.01" width="6.18" height="5.38" fill="#b4a8d4"/>
<rect x="89.31" y="304.01" width="6.18" height="5.38" fill="#ffffff"/>
<rect x="95.44" y="304.01" width="6.18" height="5.38" fill="#2d1c80"/>
<rect x="101.56" y="304.01" width="6.18" height="5.38" fill="#b4a8d4"/>
<rect x="107.69" y="304.01" width="6.18" height="5.38" fill="#fce6d6"/>
<rect x="113.82" y="304.01" width="6.18" height="5.38" fill="#ded8ec"/>
<rect x="119.95" y="304.01" width="6.18" height="5.38" fill="#d02d1e"/>
<rect x="126.08" y="304.01" width="6.18" height="5.38" fill="#2d1c80"/>
<rect x="132.20" y="304.01" width="6.18" height="5.38" fill="#fce6d6"/>
<rect x="138.33" y="304.01" width="6.18" height="5.38" fill="#ded8ec"/>
<rect x="144.46" y="304.01" width="6.18" height="5.38" fill="#ffffff"/>
<rect x="150.59" y="304.01" width="6.18" height="5.38" fill="#fce6d6"/>
<rect x="156.72" y="304.01" width="12.31" height="5.38" fill="#b4a8d4"/>
<rect x="168.97" y="304.01" width="6.18" height="5.38" fill="#f2b9a0"/>
<rect x="21.90" y="308.79" width="6.18" height="5.38" fill="#f2b9a0"/>
<rect x="28.03" y="308.79" width="6.18" height="5.38" fill="#d02d1e"/>
<rect x="34.16" y="308.79" width="6.18" height="5.38" fill="#f2b9a0"/>
<rect x="40.28" y="308.79" width="6.18" height="5.38" fill="#d02d1e"/>
<rect x="46.41" y="308.79" width="6.18" height="5.38" fill="#e37a5c"/>
<rect x="52.54" y="308.79" width="24.56" height="5.38" fill="#b4a8d4"/>
<rect x="77.05" y="308.79" width="6.18" height="5.38" fill="#f2b9a0"/>
<rect x="83.18" y="308.79" width="6.18" height="5.38" fill="#b4a8d4"/>
<rect x="89.31" y="308.79" width="6.18" height="5.38" fill="#ded8ec"/>
<rect x="95.44" y="308.79" width="6.18" height="5.38" fill="#b4a8d4"/>
<rect x="101.56" y="308.79" width="6.18" height="5.38" fill="#fce6d6"/>
<rect x="107.69" y="308.79" width="6.18" height="5.38" fill="#ded8ec"/>
<rect x="113.82" y="308.79" width="6.18" height="5.38" fill="#b4a8d4"/>
<rect x="119.95" y="308.79" width="6.18" height="5.38" fill="#fce6d6"/>
<rect x="126.08" y="308.79" width="6.18" height="5.38" fill="#ffffff"/>
<rect x="132.20" y="308.79" width="6.18" height="5.38" fill="#fce6d6"/>
<rect x="138.33" y="308.79" width="6.18" height="5.38" fill="#b4a8d4"/>
<rect x="144.46" y="308.79" width="6.18" height="5.38" fill="#ffffff"/>
<rect x="150.59" y="308.79" width="12.31" height="5.38" fill="#b4a8d4"/>
<rect x="162.84" y="308.79" width="6.18" height="5.38" fill="#f2b9a0"/>
<rect x="168.97" y="308.79" width="6.18" height="5.38" fill="#ded8ec"/>
<rect x="21.90" y="313.58" width="6.18" height="5.38" fill="#d02d1e"/>
<rect x="28.03" y="313.58" width="12.31" height="5.38" fill="#fce6d6"/>
<rect x="40.28" y="313.58" width="6.18" height="5.38" fill="#e37a5c"/>
<rect x="46.41" y="313.58" width="6.18" height="5.38" fill="#ffffff"/>
<rect x="52.54" y="313.58" width="55.20" height="5.38" fill="#b4a8d4"/>
<rect x="107.69" y="313.58" width="6.18" height="5.38" fill="#e37a5c"/>
<rect x="113.82" y="313.58" width="6.18" height="5.38" fill="#b4a8d4"/>
<rect x="119.95" y="313.58" width="6.18" height="5.38" fill="#d02d1e"/>
<rect x="126.08" y="313.58" width="36.82" height="5.38" fill="#b4a8d4"/>
<rect x="162.84" y="313.58" width="6.18" height="5.38" fill="#f2b9a0"/>
<rect x="168.97" y="313.58" width="6.18" height="5.38" fill="#b4a8d4"/>
<rect x="21.90" y="318.36" width="6.18" height="5.38" fill="#fce6d6"/>
<rect x="28.03" y="318.36" width="6.18" height="5.38" fill="#ded8ec"/>
<rect x="34.16" y="318.36" width="6.18" height="5.38" fill="#fce6d6"/>
<rect x="40.28" y="318.36" width="6.18" height="5.38" fill="#b4a8d4"/>
<rect x="46.41" y="318.36" width="6.18" height="5.38" fill="#ded8ec"/>
<rect x="52.54" y="318.36" width="6.18" height="5.38" fill="#d02d1e"/>
<rect x="58.67" y="318.36" width="24.56" height="5.38" fill="#b4a8d4"/>
<rect x="83.18" y="318.36" width="6.18" height="5.38" fill="#fce6d6"/>
<rect x="89.31" y="318.36" width="6.18" height="5.38" fill="#b4a8d4"/>
<rect x="95.44" y="318.36" width="6.18" height="5.38" fill="#f2b9a0"/>
<rect x="101.56" y="318.36" width="6.18" height="5.38" fill="#ded8ec"/>
<rect x="107.69" y="318.36" width="18.43" height="5.38" fill="#8070b4"/>
<rect x="126.08" y="318.36" width="6.18" height="5.38" fill="#ded8ec"/>
<rect x="132.20" y="318.36" width="12.31" height="5.38" fill="#b4a8d4"/>
<rect x="144.46" y="318.36" width="6.18" height="5.38" fill="#e37a5c"/>
<rect x="150.59" y="318.36" width="6.18" height="5.38" fill="#d02d1e"/>
<rect x="156.72" y="318.36" width="6.18" height="5.38" fill="#e37a5c"/>
<rect x="162.84" y="318.36" width="6.18" height="5.38" fill="#f2b9a0"/>
<rect x="168.97" y="318.36" width="6.18" height="5.38" fill="#ded8ec"/>
<rect x="21.90" y="323.14" width="6.18" height="5.38" fill="#ffffff"/>
<rect x="28.03" y="323.14" width="6.18" height="5.38" fill="#b4a8d4"/>
<rect x="34.16" y="323.14" width="6.18" height="5.38" fill="#fce6d6"/>
<rect x="40.28" y="323.14" width="6.18" height="5.38" fill="#e37a5c"/>
<rect x="46.41" y="323.14" width="6.18" height="5.38" fill="#ffffff"/>
<rect x="52.54" y="323.14" width="42.95" height="5.38" fill="#b4a8d4"/>
<rect x="95.44" y="323.14" width="6.18" height="5.38" fill="#d02d1e"/>
<rect x="101.56" y="323.14" width="6.18" height="5.38" fill="#fce6d6"/>
<rect x="107.69" y="323.14" width="42.95" height="5.38" fill="#b4a8d4"/>
<rect x="150.59" y="323.14" width="6.18" height="5.38" fill="#ded8ec"/>
<rect x="156.72" y="323.14" width="6.18" height="5.38" fill="#fce6d6"/>
<rect x="162.84" y="323.14" width="6.18" height="5.38" fill="#d02d1e"/>
<rect x="168.97" y="323.14" width="6.18" height="5.38" fill="#fce6d6"/>
<rect x="21.90" y="327.93" width="6.18" height="5.38" fill="#d02d1e"/>
<rect x="28.03" y="327.93" width="6.18" height="5.38" fill="#2d1c80"/>
<rect x="34.16" y="327.93" width="6.18" height="5.38" fill="#d02d1e"/>
<rect x="40.28" y="327.93" width="12.31" height="5.38" fill="#f2b9a0"/>
<rect x="52.54" y="327.93" width="6.18" height="5.38" fill="#ded8ec"/>
<rect x="58.67" y="327.93" width="6.18" height="5.38" fill="#fce6d6"/>
<rect x="64.80" y="327.93" width="6.18" height="5.38" fill="#ded8ec"/>
<rect x="70.92" y="327.93" width="18.43" height="5.38" fill="#b4a8d4"/>
<rect x="89.31" y="327.93" width="6.18" height="5.38" fill="#ded8ec"/>
<rect x="95.44" y="327.93" width="6.18" height="5.38" fill="#ffffff"/>
<rect x="101.56" y="327.93" width="6.18" height="5.38" fill="#ded8ec"/>
<rect x="107.69" y="327.93" width="12.31" height="5.38" fill="#b4a8d4"/>
<rect x="119.95" y="327.93" width="24.56" height="5.38" fill="#ded8ec"/>
<rect x="144.46" y="327.93" width="12.31" height="5.38" fill="#fce6d6"/>
<rect x="156.72" y="327.93" width="6.18" height="5.38" fill="#ffffff"/>
<rect x="162.84" y="327.93" width="6.18" height="5.38" fill="#fce6d6"/>
<rect x="168.97" y="327.93" width="6.18" height="5.38" fill="#f2b9a0"/>
<rect x="21.90" y="332.71" width="6.18" height="5.38" fill="#e37a5c"/>
<rect x="28.03" y="332.71" width="6.18" height="5.38" fill="#ded8ec"/>
<rect x="34.16" y="332.71" width="6.18" height="5.38" fill="#f2b9a0"/>
<rect x="40.28" y="332.71" width="6.18" height="5.38" fill="#d02d1e"/>
<rect x="46.41" y="332.71" width="12.31" height="5.38" fill="#b4a8d4"/>
<rect x="58.67" y="332.71" width="6.18" height="5.38" fill="#f2b9a0"/>
<rect x="64.80" y="332.71" width="6.18" height="5.38" fill="#b4a8d4"/>
<rect x="70.92" y="332.71" width="12.31" height="5.38" fill="#ded8ec"/>
<rect x="83.18" y="332.71" width="30.69" height="5.38" fill="#b4a8d4"/>
<rect x="113.82" y="332.71" width="6.18" height="5.38" fill="#f2b9a0"/>
<rect x="119.95" y="332.71" width="12.31" height="5.38" fill="#b4a8d4"/>
<rect x="132.20" y="332.71" width="6.18" height="5.38" fill="#f2b9a0"/>
<rect x="138.33" y="332.71" width="6.18" height="5.38" fill="#fce6d6"/>
<rect x="144.46" y="332.71" width="6.18" height="5.38" fill="#e37a5c"/>
<rect x="150.59" y="332.71" width="6.18" height="5.38" fill="#ffffff"/>
<rect x="156.72" y="332.71" width="6.18" height="5.38" fill="#f2b9a0"/>
<rect x="162.84" y="332.71" width="6.18" height="5.38" fill="#fce6d6"/>
<rect x="168.97" y="332.71" width="6.18" height="5.38" fill="#ffffff"/>
<rect x="21.90" y="337.50" width="6.18" height="5.38" fill="#fce6d6"/>
<rect x="28.03" y="337.50" width="6.18" height="5.38" fill="#f2b9a0"/>
<rect x="34.16" y="337.50" width="6.18" height="5.38" fill="#fce6d6"/>
<rect x="40.28" y="337.50" width="6.18" height="5.38" fill="#f2b9a0"/>
<rect x="46.41" y="337.50" width="6.18" height="5.38" fill="#fce6d6"/>
<rect x="52.54" y="337.50" width="6.18" height="5.38" fill="#ded8ec"/>
<rect x="58.67" y="337.50" width="6.18" height="5.38" fill="#b4a8d4"/>
<rect x="64.80" y="337.50" width="6.18" height="5.38" fill="#ded8ec"/>
<rect x="70.92" y="337.50" width="18.43" height="5.38" fill="#b4a8d4"/>
<rect x="89.31" y="337.50" width="6.18" height="5.38" fill="#8070b4"/>
<rect x="95.44" y="337.50" width="6.18" height="5.38" fill="#2d1c80"/>
<rect x="101.56" y="337.50" width="6.18" height="5.38" fill="#ded8ec"/>
<rect x="107.69" y="337.50" width="6.18" height="5.38" fill="#fce6d6"/>
<rect x="113.82" y="337.50" width="6.18" height="5.38" fill="#ffffff"/>
<rect x="119.95" y="337.50" width="6.18" height="5.38" fill="#ded8ec"/>
<rect x="126.08" y="337.50" width="6.18" height="5.38" fill="#b4a8d4"/>
<rect x="132.20" y="337.50" width="6.18" height="5.38" fill="#ffffff"/>
<rect x="138.33" y="337.50" width="6.18" height="5.38" fill="#f2b9a0"/>
<rect x="144.46" y="337.50" width="12.31" height="5.38" fill="#d02d1e"/>
<rect x="156.72" y="337.50" width="6.18" height="5.38" fill="#f2b9a0"/>
<rect x="162.84" y="337.50" width="6.18" height="5.38" fill="#d02d1e"/>
<rect x="168.97" y="337.50" width="6.18" height="5.38" fill="#8070b4"/>
<rect x="21.90" y="342.28" width="6.18" height="5.38" fill="#ded8ec"/>
<rect x="28.03" y="342.28" width="6.18" height="5.38" fill="#b4a8d4"/>
<rect x="34.16" y="342.28" width="6.18" height="5.38" fill="#ffffff"/>
<rect x="40.28" y="342.28" width="6.18" height="5.38" fill="#ded8ec"/>
<rect x="46.41" y="342.28" width="6.18" height="5.38" fill="#b4a8d4"/>
<rect x="52.54" y="342.28" width="6.18" height="5.38" fill="#8070b4"/>
<rect x="58.67" y="342.28" width="18.43" height="5.38" fill="#b4a8d4"/>
<rect x="77.05" y="342.28" width="6.18" height="5.38" fill="#ded8ec"/>
<rect x="83.18" y="342.28" width="12.31" height="5.38" fill="#b4a8d4"/>
<rect x="95.44" y="342.28" width="12.31" height="5.38" fill="#ded8ec"/>
<rect x="107.69" y="342.28" width="18.43" height="5.38" fill="#b4a8d4"/>
<rect x="126.08" y="342.28" width="12.31" height="5.38" fill="#e37a5c"/>
<rect x="138.33" y="342.28" width="6.18" height="5.38" fill="#f2b9a0"/>
<rect x="144.46" y="342.28" width="6.18" height="5.38" fill="#fce6d6"/>
<rect x="150.59" y="342.28" width="6.18" height="5.38" fill="#d02d1e"/>
<rect x="156.72" y="342.28" width="6.18" height="5.38" fill="#f2b9a0"/>
<rect x="162.84" y="342.28" width="6.18" height="5.38" fill="#d02d1e"/>
<rect x="168.97" y="342.28" width="6.18" height="5.38" fill="#ded8ec"/>
<rect x="21.90" y="347.06" width="6.18" height="5.38" fill="#fce6d6"/>
<rect x="28.03" y="347.06" width="6.18" height="5.38" fill="#ded8ec"/>
<rect x="34.16" y="347.06" width="6.18" height="5.38" fill="#b4a8d4"/>
<rect x="40.28" y="347.06" width="12.31" height="5.38" fill="#fce6d6"/>
<rect x="52.54" y="347.06" width="6.18" height="5.38" fill="#ded8ec"/>
<rect x="58.67" y="347.06" width="6.18" height="5.38" fill="#b4a8d4"/>
<rect x="64.80" y="347.06" width="6.18" height="5.38" fill="#8070b4"/>
<rect x="70.92" y="347.06" width="6.18" height="5.38" fill="#b4a8d4"/>
<rect x="77.05" y="347.06" width="12.31" height="5.38" fill="#8070b4"/>
<rect x="89.31" y="347.06" width="6.18" height="5.38" fill="#b4a8d4"/>
<rect x="95.44" y="347.06" width="6.18" height="5.38" fill="#ded8ec"/>
<rect x="101.56" y="347.06" width="6.18" height="5.38" fill="#fce6d6"/>
<rect x="107.69" y="347.06" width="6.18" height="5.38" fill="#b4a8d4"/>
<rect x="113.82" y="347.06" width="6.18" height="5.38" fill="#8070b4"/>
<rect x="119.95" y="347.06" width="12.31" height="5.38" fill="#f2b9a0"/>
<rect x="132.20" y="347.06" width="6.18" height="5.38" fill="#e37a5c"/>
<rect x="138.33" y="347.06" width="6.18" height="5.38" fill="#f2b9a0"/>
<rect x="144.46" y="347.06" width="6.18" height="5.38" fill="#e37a5c"/>
<rect x="150.59" y="347.06" width="6.18" height="5.38" fill="#d02d1e"/>
<rect x="156.72" y="347.06" width="6.18" height="5.38" fill="#ded8ec"/>
<rect x="162.84" y="347.06" width="6.18" height="5.38" fill="#d02d1e"/>
<rect x="168.97" y="347.06" width="6.18" height="5.38" fill="#ffffff"/>
<rect x="21.90" y="351.85" width="6.18" height="5.38" fill="#d02d1e"/>
<rect x="28.03" y="351.85" width="6.18" height="5.38" fill="#b4a8d4"/>
<rect x="34.16" y="351.85" width="6.18" height="5.38" fill="#e37a5c"/>
<rect x="40.28" y="351.85" width="6.18" height="5.38" fill="#b4a8d4"/>
<rect x="46.41" y="351.85" width="6.18" height="5.38" fill="#ded8ec"/>
<rect x="52.54" y="351.85" width="42.95" height="5.38" fill="#b4a8d4"/>
<rect x="95.44" y="351.85" width="12.31" height="5.38" fill="#fce6d6"/>
<rect x="107.69" y="351.85" width="6.18" height="5.38" fill="#d02d1e"/>
<rect x="113.82" y="351.85" width="12.31" height="5.38" fill="#b4a8d4"/>
<rect x="126.08" y="351.85" width="6.18" height="5.38" fill="#e37a5c"/>
<rect x="132.20" y="351.85" width="6.18" height="5.38" fill="#fce6d6"/>
<rect x="138.33" y="351.85" width="6.18" height="5.38" fill="#b4a8d4"/>
<rect x="144.46" y="351.85" width="6.18" height="5.38" fill="#e37a5c"/>
<rect x="150.59" y="351.85" width="12.31" height="5.38" fill="#f2b9a0"/>
<rect x="162.84" y="351.85" width="12.31" height="5.38" fill="#ffffff"/>
<rect x="21.90" y="356.63" width="30.69" height="5.38" fill="#b4a8d4"/>
<rect x="52.54" y="356.63" width="6.18" height="5.38" fill="#ded8ec"/>
<rect x="58.67" y="356.63" width="24.56" height="5.38" fill="#b4a8d4"/>
<rect x="83.18" y="356.63" width="12.31" height="5.38" fill="#f2b9a0"/>
<rect x="95.44" y="356.63" width="12.31" height="5.38" fill="#b4a8d4"/>
<rect x="107.69" y="356.63" width="6.18" height="5.38" fill="#d02d1e"/>
<rect x="113.82" y="356.63" width="30.69" height="5.38" fill="#b4a8d4"/>
<rect x="144.46" y="356.63" width="6.18" height="5.38" fill="#e37a5c"/>
<rect x="150.59" y="356.63" width="6.18" height="5.38" fill="#d02d1e"/>
<rect x="156.72" y="356.63" width="6.18" height="5.38" fill="#ffffff"/>
<rect x="162.84" y="356.63" width="12.31" height="5.38" fill="#d02d1e"/>
<rect x="21.90" y="361.42" width="24.56" height="5.38" fill="#b4a8d4"/>
<rect x="46.41" y="361.42" width="6.18" height="5.38" fill="#f2b9a0"/>
<rect x="52.54" y="361.42" width="30.69" height="5.38" fill="#b4a8d4"/>
<rect x="83.18" y="361.42" width="6.18" height="5.38" fill="#d02d1e"/>
<rect x="89.31" y="361.42" width="18.43" height="5.38" fill="#b4a8d4"/>
<rect x="107.69" y="361.42" width="6.18" height="5.38" fill="#d02d1e"/>
<rect x="113.82" y="361.42" width="18.43" height="5.38" fill="#b4a8d4"/>
<rect x="132.20" y="361.42" width="6.18" height="5.38" fill="#ded8ec"/>
<rect x="138.33" y="361.42" width="6.18" height="5.38" fill="#f2b9a0"/>
<rect x="144.46" y="361.42" width="6.18" height="5.38" fill="#fce6d6"/>
<rect x="150.59" y="361.42" width="6.18" height="5.38" fill="#ffffff"/>
<rect x="156.72" y="361.42" width="6.18" height="5.38" fill="#d02d1e"/>
<rect x="162.84" y="361.42" width="6.18" height="5.38" fill="#f2b9a0"/>
<rect x="168.97" y="361.42" width="6.18" height="5.38" fill="#fce6d6"/>
<rect x="21.90" y="366.20" width="30.69" height="5.38" fill="#b4a8d4"/>
<rect x="52.54" y="366.20" width="6.18" height="5.38" fill="#ded8ec"/>
<rect x="58.67" y="366.20" width="6.18" height="5.38" fill="#b4a8d4"/>
<rect x="64.80" y="366.20" width="6.18" height="5.38" fill="#e37a5c"/>
<rect x="70.92" y="366.20" width="12.31" height="5.38" fill="#b4a8d4"/>
<rect x="83.18" y="366.20" width="6.18" height="5.38" fill="#f2b9a0"/>
<rect x="89.31" y="366.20" width="6.18" height="5.38" fill="#fce6d6"/>
<rect x="95.44" y="366.20" width="12.31" height="5.38" fill="#b4a8d4"/>
<rect x="107.69" y="366.20" width="6.18" height="5.38" fill="#e37a5c"/>
<rect x="113.82" y="366.20" width="6.18" height="5.38" fill="#fce6d6"/>
<rect x="119.95" y="366.20" width="6.18" height="5.38" fill="#e37a5c"/>
<rect x="126.08" y="366.20" width="6.18" height="5.38" fill="#f2b9a0"/>
<rect x="132.20" y="366.20" width="6.18" height="5.38" fill="#fce6d6"/>
<rect x="138.33" y="366.20" width="6.18" height="5.38" fill="#f2b9a0"/>
<rect x="144.46" y="366.20" width="6.18" height="5.38" fill="#d02d1e"/>
<rect x="150.59" y="366.20" width="6.18" height="5.38" fill="#f2b9a0"/>
<rect x="156.72" y="366.20" width="6.18" height="5.38" fill="#b4a8d4"/>
<rect x="162.84" y="366.20" width="6.18" height="5.38" fill="#f2b9a0"/>
<rect x="168.97" y="366.20" width="6.18" height="5.38" fill="#b4a8d4"/>
<rect x="21.90" y="370.98" width="24.56" height="5.38" fill="#8070b4"/>
<rect x="46.41" y="370.98" width="6.18" height="5.38" fill="#b4a8d4"/>
<rect x="52.54" y="370.98" width="6.18" height="5.38" fill="#ffffff"/>
<rect x="58.67" y="370.98" width="6.18" height="5.38" fill="#b4a8d4"/>
<rect x="64.80" y="370.98" width="6.18" height="5.38" fill="#fce6d6"/>
<rect x="70.92" y="370.98" width="6.18" height="5.38" fill="#ffffff"/>
<rect x="77.05" y="370.98" width="12.31" height="5.38" fill="#fce6d6"/>
<rect x="89.31" y="370.98" width="6.18" height="5.38" fill="#b4a8d4"/>
<rect x="95.44" y="370.98" width="12.31" height="5.38" fill="#ffffff"/>
<rect x="107.69" y="370.98" width="6.18" height="5.38" fill="#e37a5c"/>
<rect x="113.82" y="370.98" width="6.18" height="5.38" fill="#8070b4"/>
<rect x="119.95" y="370.98" width="12.31" height="5.38" fill="#f2b9a0"/>
<rect x="132.20" y="370.98" width="6.18" height="5.38" fill="#e37a5c"/>
<rect x="138.33" y="370.98" width="6.18" height="5.38" fill="#8070b4"/>
<rect x="144.46" y="370.98" width="6.18" height="5.38" fill="#e37a5c"/>
<rect x="150.59" y="370.98" width="6.18" height="5.38" fill="#ded8ec"/>
<rect x="156.72" y="370.98" width="6.18" height="5.38" fill="#f2b9a0"/>
<rect x="162.84" y="370.98" width="6.18" height="5.38" fill="#d02d1e"/>
<rect x="168.97" y="370.98" width="6.18" height="5.38" fill="#f2b9a0"/>
<rect x="21.90" y="375.77" width="24.56" height="5.38" fill="#b4a8d4"/>
<rect x="46.41" y="375.77" width="6.18" height="5.38" fill="#f2b9a0"/>
<rect x="52.54" y="375.77" width="12.31" height="5.38" fill="#b4a8d4"/>
<rect x="64.80" y="375.77" width="6.18" height="5.38" fill="#f2b9a0"/>
<rect x="70.92" y="375.77" width="6.18" height="5.38" fill="#d02d1e"/>
<rect x="77.05" y="375.77" width="30.69" height="5.38" fill="#b4a8d4"/>
<rect x="107.69" y="375.77" width="6.18" height="5.38" fill="#ffffff"/>
<rect x="113.82" y="375.77" width="6.18" height="5.38" fill="#d02d1e"/>
<rect x="119.95" y="375.77" width="12.31" height="5.38" fill="#f2b9a0"/>
<rect x="132.20" y="375.77" width="6.18" height="5.38" fill="#ded8ec"/>
<rect x="138.33" y="375.77" width="6.18" height="5.38" fill="#b4a8d4"/>
<rect x="144.46" y="375.77" width="12.31" height="5.38" fill="#fce6d6"/>
<rect x="156.72" y="375.77" width="6.18" height="5.38" fill="#ffffff"/>
<rect x="162.84" y="375.77" width="6.18" height="5.38" fill="#f2b9a0"/>
<rect x="168.97" y="375.77" width="6.18" height="5.38" fill="#e37a5c"/>
<rect x="21.90" y="380.55" width="6.18" height="5.38" fill="#8070b4"/>
<rect x="28.03" y="380.55" width="6.18" height="5.38" fill="#ffffff"/>
<rect x="34.16" y="380.55" width="6.18" height="5.38" fill="#8070b4"/>
<rect x="40.28" y="380.55" width="6.18" height="5.38" fill="#b4a8d4"/>
<rect x="46.41" y="380.55" width="6.18" height="5.38" fill="#f2b9a0"/>
<rect x="52.54" y="380.55" width="6.18" height="5.38" fill="#fce6d6"/>
<rect x="58.67" y="380.55" width="6.18" height="5.38" fill="#8070b4"/>
<rect x="64.80" y="380.55" width="6.18" height="5.38" fill="#f2b9a0"/>
<rect x="70.92" y="380.55" width="6.18" height="5.38" fill="#b4a8d4"/>
<rect x="77.05" y="380.55" width="6.18" height="5.38" fill="#e37a5c"/>
<rect x="83.18" y="380.55" width="6.18" height="5.38" fill="#b4a8d4"/>
<rect x="89.31" y="380.55" width="6.18" height="5.38" fill="#8070b4"/>
<rect x="95.44" y="380.55" width="18.43" height="5.38" fill="#b4a8d4"/>
<rect x="113.82" y="380.55" width="6.18" height="5.38" fill="#f2b9a0"/>
<rect x="119.95" y="380.55" width="6.18" height="5.38" fill="#e37a5c"/>
<rect x="126.08" y="380.55" width="6.18" height="5.38" fill="#d02d1e"/>
<rect x="132.20" y="380.55" width="12.31" height="5.38" fill="#e37a5c"/>
<rect x="144.46" y="380.55" width="6.18" height="5.38" fill="#ffffff"/>
<rect x="150.59" y="380.55" width="6.18" height="5.38" fill="#fce6d6"/>
<rect x="156.72" y="380.55" width="6.18" height="5.38" fill="#b4a8d4"/>
<rect x="162.84" y="380.55" width="6.18" height="5.38" fill="#ded8ec"/>
<rect x="168.97" y="380.55" width="6.18" height="5.38" fill="#fce6d6"/>
<rect x="21.90" y="385.34" width="12.31" height="5.38" fill="#b4a8d4"/>
<rect x="34.16" y="385.34" width="6.18" height="5.38" fill="#f2b9a0"/>
<rect x="40.28" y="385.34" width="6.18" height="5.38" fill="#b4a8d4"/>
<rect x="46.41" y="385.34" width="6.18" height="5.38" fill="#f2b9a0"/>
<rect x="52.54" y="385.34" width="24.56" height="5.38" fill="#b4a8d4"/>
<rect x="77.05" y="385.34" width="6.18" height="5.38" fill="#ffffff"/>
<rect x="83.18" y="385.34" width="36.82" height="5.38" fill="#b4a8d4"/>
<rect x="119.95" y="385.34" width="6.18" height="5.38" fill="#d02d1e"/>
<rect x="126.08" y="385.34" width="6.18" height="5.38" fill="#fce6d6"/>
<rect x="132.20" y="385.34" width="6.18" height="5.38" fill="#b4a8d4"/>
<rect x="138.33" y="385.34" width="6.18" height="5.38" fill="#ffffff"/>
<rect x="144.46" y="385.34" width="6.18" height="5.38" fill="#fce6d6"/>
<rect x="150.59" y="385.34" width="6.18" height="5.38" fill="#ded8ec"/>
<rect x="156.72" y="385.34" width="6.18" height="5.38" fill="#e37a5c"/>
<rect x="162.84" y="385.34" width="6.18" height="5.38" fill="#d02d1e"/>
<rect x="168.97" y="385.34" width="6.18" height="5.38" fill="#ffffff"/>
<rect x="21.90" y="390.12" width="6.18" height="5.38" fill="#8070b4"/>
<rect x="28.03" y="390.12" width="12.31" height="5.38" fill="#b4a8d4"/>
<rect x="40.28" y="390.12" width="6.18" height="5.38" fill="#8070b4"/>
<rect x="46.41" y="390.12" width="12.31" height="5.38" fill="#b4a8d4"/>
<rect x="58.67" y="390.12" width="6.18" height="5.38" fill="#8070b4"/>
<rect x="64.80" y="390.12" width="6.18" height="5.38" fill="#ffffff"/>
<rect x="70.92" y="390.12" width="12.31" height="5.38" fill="#b4a8d4"/>
<rect x="83.18" y="390.12" width="6.18" height="5.38" fill="#e37a5c"/>
<rect x="89.31" y="390.12" width="6.18" height="5.38" fill="#ded8ec"/>
<rect x="95.44" y="390.12" width="6.18" height="5.38" fill="#f2b9a0"/>
<rect x="101.56" y="390.12" width="6.18" height="5.38" fill="#d02d1e"/>
<rect x="107.69" y="390.12" width="6.18" height="5.38" fill="#fce6d6"/>
<rect x="113.82" y="390.12" width="6.18" height="5.38" fill="#e37a5c"/>
<rect x="119.95" y="390.12" width="6.18" height="5.38" fill="#d02d1e"/>
<rect x="126.08" y="390.12" width="6.18" height="5.38" fill="#ffffff"/>
<rect x="132.20" y="390.12" width="6.18" height="5.38" fill="#f2b9a0"/>
<rect x="138.33" y="390.12" width="6.18" height="5.38" fill="#e37a5c"/>
<rect x="144.46" y="390.12" width="6.18" height="5.38" fill="#ffffff"/>
<rect x="150.59" y="390.12" width="12.31" height="5.38" fill="#ded8ec"/>
<rect x="162.84" y="390.12" width="6.18" height="5.38" fill="#b4a8d4"/>
<rect x="168.97" y="390.12" width="6.18" height="5.38" fill="#fce6d6"/>
<rect x="21.90" y="394.90" width="6.18" height="5.38" fill="#2d1c80"/>
<rect x="28.03" y="394.90" width="6.18" height="5.38" fill="#ded8ec"/>
<rect x="34.16" y="394.90" width="6.18" height="5.38" fill="#ffffff"/>
<rect x="40.28" y="394.90" width="6.18" height="5.38" fill="#8070b4"/>
<rect x="46.41" y="394.90" width="6.18" height="5.38" fill="#b4a8d4"/>
<rect x="52.54" y="394.90" width="6.18" height="5.38" fill="#f2b9a0"/>
<rect x="58.67" y="394.90" width="6.18" height="5.38" fill="#b4a8d4"/>
<rect x="64.80" y="394.90" width="6.18" height="5.38" fill="#ded8ec"/>
<rect x="70.92" y="394.90" width="6.18" height="5.38" fill="#8070b4"/>
<rect x="77.05" y="394.90" width="6.18" height="5.38" fill="#ded8ec"/>
<rect x="83.18" y="394.90" width="6.18" height="5.38" fill="#e37a5c"/>
<rect x="89.31" y="394.90" width="6.18" height="5.38" fill="#f2b9a0"/>
<rect x="95.44" y="394.90" width="12.31" height="5.38" fill="#e37a5c"/>
<rect x="107.69" y="394.90" width="6.18" height="5.38" fill="#fce6d6"/>
<rect x="113.82" y="394.90" width="6.18" height="5.38" fill="#ded8ec"/>
<rect x="119.95" y="394.90" width="6.18" height="5.38" fill="#d02d1e"/>
<rect x="126.08" y="394.90" width="6.18" height="5.38" fill="#ded8ec"/>
<rect x="132.20" y="394.90" width="6.18" height="5.38" fill="#f2b9a0"/>
<rect x="138.33" y="394.90" width="6.18" height="5.38" fill="#e37a5c"/>
<rect x="144.46" y="394.90" width="6.18" height="5.38" fill="#fce6d6"/>
<rect x="150.59" y="394.90" width="6.18" height="5.38" fill="#ded8ec"/>
<rect x="156.72" y="394.90" width="6.18" height="5.38" fill="#8070b4"/>
<rect x="162.84" y="394.90" width="6.18" height="5.38" fill="#b4a8d4"/>
<rect x="168.97" y="394.90" width="6.18" height="5.38" fill="#fce6d6"/>
<rect x="21.90" y="399.69" width="6.18" height="5.38" fill="#8070b4"/>
<rect x="28.03" y="399.69" width="12.31" height="5.38" fill="#ded8ec"/>
<rect x="40.28" y="399.69" width="6.18" height="5.38" fill="#b4a8d4"/>
<rect x="46.41" y="399.69" width="12.31" height="5.38" fill="#ded8ec"/>
<rect x="58.67" y="399.69" width="6.18" height="5.38" fill="#8070b4"/>
<rect x="64.80" y="399.69" width="18.43" height="5.38" fill="#b4a8d4"/>
<rect x="83.18" y="399.69" width="6.18" height="5.38" fill="#e37a5c"/>
<rect x="89.31" y="399.69" width="12.31" height="5.38" fill="#f2b9a0"/>
<rect x="101.56" y="399.69" width="6.18" height="5.38" fill="#e37a5c"/>
<rect x="107.69" y="399.69" width="6.18" height="5.38" fill="#ded8ec"/>
<rect x="113.82" y="399.69" width="6.18" height="5.38" fill="#f2b9a0"/>
<rect x="119.95" y="399.69" width="6.18" height="5.38" fill="#d02d1e"/>
<rect x="126.08" y="399.69" width="18.43" height="5.38" fill="#f2b9a0"/>
<rect x="144.46" y="399.69" width="6.18" height="5.38" fill="#fce6d6"/>
<rect x="150.59" y="399.69" width="6.18" height="5.38" fill="#2d1c80"/>
<rect x="156.72" y="399.69" width="6.18" height="5.38" fill="#ffffff"/>
<rect x="162.84" y="399.69" width="6.18" height="5.38" fill="#2d1c80"/>
<rect x="168.97" y="399.69" width="6.18" height="5.38" fill="#ffffff"/>
<rect x="21.90" y="404.47" width="6.18" height="5.38" fill="#ded8ec"/>
<rect x="28.03" y="404.47" width="6.18" height="5.38" fill="#2d1c80"/>
<rect x="34.16" y="404.47" width="6.18" height="5.38" fill="#ffffff"/>
<rect x="40.28" y="404.47" width="6.18" height="5.38" fill="#f2b9a0"/>
<rect x="46.41" y="404.47" width="6.18" height="5.38" fill="#b4a8d4"/>
<rect x="52.54" y="404.47" width="6.18" height="5.38" fill="#fce6d6"/>
<rect x="58.67" y="404.47" width="18.43" height="5.38" fill="#b4a8d4"/>
<rect x="77.05" y="404.47" width="6.18" height="5.38" fill="#fce6d6"/>
<rect x="83.18" y="404.47" width="6.18" height="5.38" fill="#f2b9a0"/>
<rect x="89.31" y="404.47" width="12.31" height="5.38" fill="#e37a5c"/>
<rect x="101.56" y="404.47" width="6.18" height="5.38" fill="#f2b9a0"/>
<rect x="107.69" y="404.47" width="6.18" height="5.38" fill="#ffffff"/>
<rect x="113.82" y="404.47" width="6.18" height="5.38" fill="#d02d1e"/>
<rect x="119.95" y="404.47" width="6.18" height="5.38" fill="#b4a8d4"/>
<rect x="126.08" y="404.47" width="6.18" height="5.38" fill="#e37a5c"/>
<rect x="132.20" y="404.47" width="12.31" height="5.38" fill="#f2b9a0"/>
<rect x="144.46" y="404.47" width="6.18" height="5.38" fill="#b4a8d4"/>
<rect x="150.59" y="404.47" width="6.18" height="5.38" fill="#2d1c80"/>
<rect x="156.72" y="404.47" width="6.18" height="5.38" fill="#b4a8d4"/>
<rect x="162.84" y="404.47" width="6.18" height="5.38" fill="#ded8ec"/>
<rect x="168.97" y="404.47" width="6.18" height="5.38" fill="#b4a8d4"/>
<rect x="21.90" y="409.26" width="18.43" height="5.38" fill="#b4a8d4"/>
<rect x="40.28" y="409.26" width="6.18" height="5.38" fill="#ded8ec"/>
<rect x="46.41" y="409.26" width="6.18" height="5.38" fill="#f2b9a0"/>
<rect x="52.54" y="409.26" width="30.69" height="5.38" fill="#b4a8d4"/>
<rect x="83.18" y="409.26" width="6.18" height="5.38" fill="#ded8ec"/>
<rect x="89.31" y="409.26" width="12.31" height="5.38" fill="#d02d1e"/>
<rect x="101.56" y="409.26" width="6.18" height="5.38" fill="#b4a8d4"/>
<rect x="107.69" y="409.26" width="6.18" height="5.38" fill="#ded8ec"/>
<rect x="113.82" y="409.26" width="12.31" height="5.38" fill="#f2b9a0"/>
<rect x="126.08" y="409.26" width="6.18" height="5.38" fill="#e37a5c"/>
<rect x="132.20" y="409.26" width="6.18" height="5.38" fill="#f2b9a0"/>
<rect x="138.33" y="409.26" width="6.18" height="5.38" fill="#ffffff"/>
<rect x="144.46" y="409.26" width="12.31" height="5.38" fill="#b4a8d4"/>
<rect x="156.72" y="409.26" width="6.18" height="5.38" fill="#f2b9a0"/>
<rect x="162.84" y="409.26" width="6.18" height="5.38" fill="#b4a8d4"/>
<rect x="168.97" y="409.26" width="6.18" height="5.38" fill="#f2b9a0"/>
<rect x="21.90" y="414.04" width="6.18" height="5.38" fill="#fce6d6"/>
<rect x="28.03" y="414.04" width="6.18" height="5.38" fill="#b4a8d4"/>
<rect x="34.16" y="414.04" width="6.18" height="5.38" fill="#ffffff"/>
<rect x="40.28" y="414.04" width="18.43" height="5.38" fill="#b4a8d4"/>
<rect x="58.67" y="414.04" width="6.18" height="5.38" fill="#fce6d6"/>
<rect x="64.80" y="414.04" width="6.18" height="5.38" fill="#ded8ec"/>
<rect x="70.92" y="414.04" width="6.18" height="5.38" fill="#b4a8d4"/>
<rect x="77.05" y="414.04" width="6.18" height="5.38" fill="#2d1c80"/>
<rect x="83.18" y="414.04" width="6.18" height="5.38" fill="#ded8ec"/>
<rect x="89.31" y="414.04" width="6.18" height="5.38" fill="#ffffff"/>
<rect x="95.44" y="414.04" width="6.18" height="5.38" fill="#f2b9a0"/>
<rect x="101.56" y="414.04" width="12.31" height="5.38" fill="#d02d1e"/>
<rect x="113.82" y="414.04" width="6.18" height="5.38" fill="#f2b9a0"/>
<rect x="119.95" y="414.04" width="6.18" height="5.38" fill="#ded8ec"/>
<rect x="126.08" y="414.04" width="6.18" height="5.38" fill="#f2b9a0"/>
<rect x="132.20" y="414.04" width="6.18" height="5.38" fill="#fce6d6"/>
<rect x="138.33" y="414.04" width="6.18" height="5.38" fill="#ffffff"/>
<rect x="144.46" y="414.04" width="6.18" height="5.38" fill="#b4a8d4"/>
<rect x="150.59" y="414.04" width="6.18" height="5.38" fill="#8070b4"/>
<rect x="156.72" y="414.04" width="6.18" height="5.38" fill="#ffffff"/>
<rect x="162.84" y="414.04" width="6.18" height="5.38" fill="#f2b9a0"/>
<rect x="168.97" y="414.04" width="6.18" height="5.38" fill="#ded8ec"/>
<rect x="21.90" y="418.82" width="6.18" height="5.38" fill="#fce6d6"/>
<rect x="28.03" y="418.82" width="6.18" height="5.38" fill="#2d1c80"/>
<rect x="34.16" y="418.82" width="6.18" height="5.38" fill="#ffffff"/>
<rect x="40.28" y="418.82" width="6.18" height="5.38" fill="#8070b4"/>
<rect x="46.41" y="418.82" width="6.18" height="5.38" fill="#b4a8d4"/>
<rect x="52.54" y="418.82" width="6.18" height="5.38" fill="#ded8ec"/>
<rect x="58.67" y="418.82" width="24.56" height="5.38" fill="#b4a8d4"/>
<rect x="83.18" y="418.82" width="6.18" height="5.38" fill="#fce6d6"/>
<rect x="89.31" y="418.82" width="6.18" height="5.38" fill="#ffffff"/>
<rect x="95.44" y="418.82" width="6.18" height="5.38" fill="#e37a5c"/>
<rect x="101.56" y="418.82" width="6.18" height="5.38" fill="#ffffff"/>
<rect x="107.69" y="418.82" width="6.18" height="5.38" fill="#e37a5c"/>
<rect x="113.82" y="418.82" width="6.18" height="5.38" fill="#fce6d6"/>
<rect x="119.95" y="418.82" width="6.18" height="5.38" fill="#d02d1e"/>
<rect x="126.08" y="418.82" width="6.18" height="5.38" fill="#fce6d6"/>
<rect x="132.20" y="418.82" width="6.18" height="5.38" fill="#e37a5c"/>
<rect x="138.33" y="418.82" width="6.18" height="5.38" fill="#f2b9a0"/>
<rect x="144.46" y="418.82" width="6.18" height="5.38" fill="#8070b4"/>
<rect x="150.59" y="418.82" width="6.18" height="5.38" fill="#ffffff"/>
<rect x="156.72" y="418.82" width="6.18" height="5.38" fill="#f2b9a0"/>
<rect x="162.84" y="418.82" width="12.31" height="5.38" fill="#fce6d6"/>
<rect x="21.90" y="423.61" width="12.31" height="5.38" fill="#b4a8d4"/>
<rect x="34.16" y="423.61" width="6.18" height="5.38" fill="#fce6d6"/>
<rect x="40.28" y="423.61" width="6.18" height="5.38" fill="#b4a8d4"/>
<rect x="46.41" y="423.61" width="6.18" height="5.38" fill="#f2b9a0"/>
<rect x="52.54" y="423.61" width="30.69" height="5.38" fill="#b4a8d4"/>
<rect x="83.18" y="423.61" width="6.18" height="5.38" fill="#ded8ec"/>
<rect x="89.31" y="423.61" width="6.18" height="5.38" fill="#fce6d6"/>
<rect x="95.44" y="423.61" width="12.31" height="5.38" fill="#d02d1e"/>
<rect x="107.69" y="423.61" width="6.18" height="5.38" fill="#fce6d6"/>
<rect x="113.82" y="423.61" width="6.18" height="5.38" fill="#ded8ec"/>
<rect x="119.95" y="423.61" width="6.18" height="5.38" fill="#b4a8d4"/>
<rect x="126.08" y="423.61" width="6.18" height="5.38" fill="#d02d1e"/>
<rect x="132.20" y="423.61" width="6.18" height="5.38" fill="#ded8ec"/>
<rect x="138.33" y="423.61" width="6.18" height="5.38" fill="#fce6d6"/>
<rect x="144.46" y="423.61" width="6.18" height="5.38" fill="#ded8ec"/>
<rect x="150.59" y="423.61" width="6.18" height="5.38" fill="#b4a8d4"/>
<rect x="156.72" y="423.61" width="6.18" height="5.38" fill="#ded8ec"/>
<rect x="162.84" y="423.61" width="12.31" height="5.38" fill="#f2b9a0"/>
<rect x="21.90" y="428.39" width="6.18" height="5.38" fill="#ded8ec"/>
<rect x="28.03" y="428.39" width="6.18" height="5.38" fill="#8070b4"/>
<rect x="34.16" y="428.39" width="24.56" height="5.38" fill="#b4a8d4"/>
<rect x="58.67" y="428.39" width="6.18" height="5.38" fill="#8070b4"/>
<rect x="64.80" y="428.39" width="12.31" height="5.38" fill="#ffffff"/>
<rect x="77.05" y="428.39" width="6.18" height="5.38" fill="#8070b4"/>
<rect x="83.18" y="428.39" width="6.18" height="5.38" fill="#f2b9a0"/>
<rect x="89.31" y="428.39" width="12.31" height="5.38" fill="#e37a5c"/>
<rect x="101.56" y="428.39" width="6.18" height="5.38" fill="#fce6d6"/>
<rect x="107.69" y="428.39" width="6.18" height="5.38" fill="#f2b9a0"/>
<rect x="113.82" y="428.39" width="6.18" height="5.38" fill="#ded8ec"/>
<rect x="119.95" y="428.39" width="6.18" height="5.38" fill="#b4a8d4"/>
<rect x="126.08" y="428.39" width="6.18" height="5.38" fill="#f2b9a0"/>
<rect x="132.20" y="428.39" width="12.31" height="5.38" fill="#fce6d6"/>
<rect x="144.46" y="428.39" width="6.18" height="5.38" fill="#ded8ec"/>
<rect x="150.59" y="428.39" width="6.18" height="5.38" fill="#fce6d6"/>
<rect x="156.72" y="428.39" width="6.18" height="5.38" fill="#f2b9a0"/>
<rect x="162.84" y="428.39" width="6.18" height="5.38" fill="#d02d1e"/>
<rect x="168.97" y="428.39" width="6.18" height="5.38" fill="#e37a5c"/>
<rect x="21.90" y="433.18" width="6.18" height="5.38" fill="#b4a8d4"/>
<rect x="28.03" y="433.18" width="6.18" height="5.38" fill="#fce6d6"/>
<rect x="34.16" y="433.18" width="6.18" height="5.38" fill="#ded8ec"/>
<rect x="40.28" y="433.18" width="6.18" height="5.38" fill="#fce6d6"/>
<rect x="46.41" y="433.18" width="6.18" height="5.38" fill="#ded8ec"/>
<rect x="52.54" y="433.18" width="24.56" height="5.38" fill="#b4a8d4"/>
<rect x="77.05" y="433.18" width="6.18" height="5.38" fill="#8070b4"/>
<rect x="83.18" y="433.18" width="6.18" height="5.38" fill="#ded8ec"/>
<rect x="89.31" y="433.18" width="12.31" height="5.38" fill="#e37a5c"/>
<rect x="101.56" y="433.18" width="6.18" height="5.38" fill="#f2b9a0"/>
<rect x="107.69" y="433.18" width="6.18" height="5.38" fill="#e37a5c"/>
<rect x="113.82" y="433.18" width="6.18" height="5.38" fill="#8070b4"/>
<rect x="119.95" y="433.18" width="6.18" height="5.38" fill="#e37a5c"/>
<rect x="126.08" y="433.18" width="6.18" height="5.38" fill="#fce6d6"/>
<rect x="132.20" y="433.18" width="6.18" height="5.38" fill="#f2b9a0"/>
<rect x="138.33" y="433.18" width="6.18" height="5.38" fill="#d02d1e"/>
<rect x="144.46" y="433.18" width="6.18" height="5.38" fill="#ffffff"/>
<rect x="150.59" y="433.18" width="6.18" height="5.38" fill="#ded8ec"/>
<rect x="156.72" y="433.18" width="6.18" height="5.38" fill="#b4a8d4"/>
<rect x="162.84" y="433.18" width="6.18" height="5.38" fill="#e37a5c"/>
<rect x="168.97" y="433.18" width="6.18" height="5.38" fill="#b4a8d4"/>
<rect x="21.90" y="437.96" width="30.69" height="5.38" fill="#b4a8d4"/>
<rect x="52.54" y="437.96" width="6.18" height="5.38" fill="#f2b9a0"/>
<rect x="58.67" y="437.96" width="6.18" height="5.38" fill="#d02d1e"/>
<rect x="64.80" y="437.96" width="6.18" height="5.38" fill="#b4a8d4"/>
<rect x="70.92" y="437.96" width="6.18" height="5.38" fill="#ded8ec"/>
<rect x="77.05" y="437.96" width="6.18" height="5.38" fill="#d02d1e"/>
<rect x="83.18" y="437.96" width="6.18" height="5.38" fill="#b4a8d4"/>
<rect x="89.31" y="437.96" width="12.31" height="5.38" fill="#ffffff"/>
<rect x="101.56" y="437.96" width="6.18" height="5.38" fill="#f2b9a0"/>
<rect x="107.69" y="437.96" width="6.18" height="5.38" fill="#b4a8d4"/>
<rect x="113.82" y="437.96" width="18.43" height="5.38" fill="#e37a5c"/>
<rect x="132.20" y="437.96" width="6.18" height="5.38" fill="#b4a8d4"/>
<rect x="138.33" y="437.96" width="6.18" height="5.38" fill="#f2b9a0"/>
<rect x="144.46" y="437.96" width="24.56" height="5.38" fill="#b4a8d4"/>
<rect x="168.97" y="437.96" width="6.18" height="5.38" fill="#e37a5c"/>
<rect x="21.90" y="442.74" width="30.69" height="5.38" fill="#b4a8d4"/>
<rect x="52.54" y="442.74" width="12.31" height="5.38" fill="#ffffff"/>
<rect x="64.80" y="442.74" width="6.18" height="5.38" fill="#fce6d6"/>
<rect x="70.92" y="442.74" width="6.18" height="5.38" fill="#f2b9a0"/>
<rect x="77.05" y="442.74" width="6.18" height="5.38" fill="#fce6d6"/>
<rect x="83.18" y="442.74" width="6.18" height="5.38" fill="#f2b9a0"/>
<rect x="89.31" y="442.74" width="6.18" height="5.38" fill="#ffffff"/>
<rect x="95.44" y="442.74" width="6.18" height="5.38" fill="#f2b9a0"/>
<rect x="101.56" y="442.74" width="6.18" height="5.38" fill="#ffffff"/>
<rect x="107.69" y="442.74" width="6.18" height="5.38" fill="#d02d1e"/>
<rect x="113.82" y="442.74" width="12.31" height="5.38" fill="#ffffff"/>
<rect x="126.08" y="442.74" width="6.18" height="5.38" fill="#d02d1e"/>
<rect x="132.20" y="442.74" width="6.18" height="5.38" fill="#b4a8d4"/>
<rect x="138.33" y="442.74" width="6.18" height="5.38" fill="#e37a5c"/>
<rect x="144.46" y="442.74" width="6.18" height="5.38" fill="#ffffff"/>
<rect x="150.59" y="442.74" width="24.56" height="5.38" fill="#b4a8d4"/>
<rect x="21.90" y="447.53" width="6.18" height="5.38" fill="#b4a8d4"/>
<rect x="28.03" y="447.53" width="6.18" height="5.38" fill="#8070b4"/>
<rect x="34.16" y="447.53" width="12.31" height="5.38" fill="#b4a8d4"/>
<rect x="46.41" y="447.53" width="6.18" height="5.38" fill="#fce6d6"/>
<rect x="52.54" y="447.53" width="6.18" height="5.38" fill="#ffffff"/>
<rect x="58.67" y="447.53" width="6.18" height="5.38" fill="#f2b9a0"/>
<rect x="64.80" y="447.53" width="6.18" height="5.38" fill="#b4a8d4"/>
<rect x="70.92" y="447.53" width="12.31" height="5.38" fill="#ffffff"/>
<rect x="83.18" y="447.53" width="6.18" height="5.38" fill="#fce6d6"/>
<rect x="89.31" y="447.53" width="6.18" height="5.38" fill="#ffffff"/>
<rect x="95.44" y="447.53" width="6.18" height="5.38" fill="#e37a5c"/>
<rect x="101.56" y="447.53" width="6.18" height="5.38" fill="#f2b9a0"/>
<rect x="107.69" y="447.53" width="6.18" height="5.38" fill="#fce6d6"/>
<rect x="113.82" y="447.53" width="6.18" height="5.38" fill="#ded8ec"/>
<rect x="119.95" y="447.53" width="6.18" height="5.38" fill="#d02d1e"/>
<rect x="126.08" y="447.53" width="6.18" height="5.38" fill="#ffffff"/>
<rect x="132.20" y="447.53" width="12.31" height="5.38" fill="#f2b9a0"/>
<rect x="144.46" y="447.53" width="6.18" height="5.38" fill="#2d1c80"/>
<rect x="150.59" y="447.53" width="12.31" height="5.38" fill="#b4a8d4"/>
<rect x="162.84" y="447.53" width="6.18" height="5.38" fill="#fce6d6"/>
<rect x="168.97" y="447.53" width="6.18" height="5.38" fill="#b4a8d4"/>
<rect x="21.90" y="452.31" width="12.31" height="5.38" fill="#b4a8d4"/>
<rect x="34.16" y="452.31" width="12.31" height="5.38" fill="#8070b4"/>
<rect x="46.41" y="452.31" width="6.18" height="5.38" fill="#e37a5c"/>
<rect x="52.54" y="452.31" width="6.18" height="5.38" fill="#ffffff"/>
<rect x="58.67" y="452.31" width="6.18" height="5.38" fill="#b4a8d4"/>
<rect x="64.80" y="452.31" width="6.18" height="5.38" fill="#ded8ec"/>
<rect x="70.92" y="452.31" width="6.18" height="5.38" fill="#8070b4"/>
<rect x="77.05" y="452.31" width="6.18" height="5.38" fill="#ded8ec"/>
<rect x="83.18" y="452.31" width="6.18" height="5.38" fill="#f2b9a0"/>
<rect x="89.31" y="452.31" width="6.18" height="5.38" fill="#b4a8d4"/>
<rect x="95.44" y="452.31" width="6.18" height="5.38" fill="#ffffff"/>
<rect x="101.56" y="452.31" width="6.18" height="5.38" fill="#f2b9a0"/>
<rect x="107.69" y="452.31" width="6.18" height="5.38" fill="#ded8ec"/>
<rect x="113.82" y="452.31" width="6.18" height="5.38" fill="#e37a5c"/>
<rect x="119.95" y="452.31" width="6.18" height="5.38" fill="#b4a8d4"/>
<rect x="126.08" y="452.31" width="6.18" height="5.38" fill="#d02d1e"/>
<rect x="132.20" y="452.31" width="6.18" height="5.38" fill="#e37a5c"/>
<rect x="138.33" y="452.31" width="6.18" height="5.38" fill="#d02d1e"/>
<rect x="144.46" y="452.31" width="6.18" height="5.38" fill="#b4a8d4"/>
<rect x="150.59" y="452.31" width="6.18" height="5.38" fill="#fce6d6"/>
<rect x="156.72" y="452.31" width="6.18" height="5.38" fill="#ffffff"/>
<rect x="162.84" y="452.31" width="6.18" height="5.38" fill="#fce6d6"/>
<rect x="168.97" y="452.31" width="6.18" height="5.38" fill="#b4a8d4"/>
<rect x="21.90" y="457.10" width="12.31" height="5.38" fill="#b4a8d4"/>
<rect x="34.16" y="457.10" width="6.18" height="5.38" fill="#ded8ec"/>
<rect x="40.28" y="457.10" width="6.18" height="5.38" fill="#b4a8d4"/>
<rect x="46.41" y="457.10" width="6.18" height="5.38" fill="#d02d1e"/>
<rect x="52.54" y="457.10" width="6.18" height="5.38" fill="#b4a8d4"/>
<rect x="58.67" y="457.10" width="6.18" height="5.38" fill="#ffffff"/>
<rect x="64.80" y="457.10" width="6.18" height="5.38" fill="#fce6d6"/>
<rect x="70.92" y="457.10" width="6.18" height="5.38" fill="#b4a8d4"/>
<rect x="77.05" y="457.10" width="6.18" height="5.38" fill="#f2b9a0"/>
<rect x="83.18" y="457.10" width="6.18" height="5.38" fill="#ffffff"/>
<rect x="89.31" y="457.10" width="6.18" height="5.38" fill="#2d1c80"/>
<rect x="95.44" y="457.10" width="6.18" height="5.38" fill="#fce6d6"/>
<rect x="101.56" y="457.10" width="6.18" height="5.38" fill="#b4a8d4"/>
<rect x="107.69" y="457.10" width="6.18" height="5.38" fill="#fce6d6"/>
<rect x="113.82" y="457.10" width="6.18" height="5.38" fill="#e37a5c"/>
<rect x="119.95" y="457.10" width="6.18" height="5.38" fill="#f2b9a0"/>
<rect x="126.08" y="457.10" width="12.31" height="5.38" fill="#e37a5c"/>
<rect x="138.33" y="457.10" width="6.18" height="5.38" fill="#d02d1e"/>
<rect x="144.46" y="457.10" width="12.31" height="5.38" fill="#b4a8d4"/>
<rect x="156.72" y="457.10" width="6.18" height="5.38" fill="#8070b4"/>
<rect x="162.84" y="457.10" width="6.18" height="5.38" fill="#ded8ec"/>
<rect x="168.97" y="457.10" width="6.18" height="5.38" fill="#2d1c80"/>
<rect x="21.90" y="461.88" width="6.18" height="5.38" fill="#ffffff"/>
<rect x="28.03" y="461.88" width="6.18" height="5.38" fill="#2d1c80"/>
<rect x="34.16" y="461.88" width="6.18" height="5.38" fill="#ffffff"/>
<rect x="40.28" y="461.88" width="6.18" height="5.38" fill="#8070b4"/>
<rect x="46.41" y="461.88" width="6.18" height="5.38" fill="#b4a8d4"/>
<rect x="52.54" y="461.88" width="12.31" height="5.38" fill="#fce6d6"/>
<rect x="64.80" y="461.88" width="6.18" height="5.38" fill="#ffffff"/>
<rect x="70.92" y="461.88" width="12.31" height="5.38" fill="#b4a8d4"/>
<rect x="83.18" y="461.88" width="6.18" height="5.38" fill="#ded8ec"/>
<rect x="89.31" y="461.88" width="6.18" height="5.38" fill="#ffffff"/>
<rect x="95.44" y="461.88" width="6.18" height="5.38" fill="#b4a8d4"/>
<rect x="101.56" y="461.88" width="6.18" height="5.38" fill="#f2b9a0"/>
<rect x="107.69" y="461.88" width="6.18" height="5.38" fill="#b4a8d4"/>
<rect x="113.82" y="461.88" width="6.18" height="5.38" fill="#f2b9a0"/>
<rect x="119.95" y="461.88" width="6.18" height="5.38" fill="#d02d1e"/>
<rect x="126.08" y="461.88" width="12.31" height="5.38" fill="#f2b9a0"/>
<rect x="138.33" y="461.88" width="6.18" height="5.38" fill="#e37a5c"/>
<rect x="144.46" y="461.88" width="6.18" height="5.38" fill="#ded8ec"/>
<rect x="150.59" y="461.88" width="6.18" height="5.38" fill="#f2b9a0"/>
<rect x="156.72" y="461.88" width="6.18" height="5.38" fill="#fce6d6"/>
<rect x="162.84" y="461.88" width="6.18" height="5.38" fill="#f2b9a0"/>
<rect x="168.97" y="461.88" width="6.18" height="5.38" fill="#fce6d6"/>
<rect x="21.90" y="466.66" width="18.43" height="5.38" fill="#b4a8d4"/>
<rect x="40.28" y="466.66" width="6.18" height="5.38" fill="#ded8ec"/>
<rect x="46.41" y="466.66" width="12.31" height="5.38" fill="#b4a8d4"/>
<rect x="58.67" y="466.66" width="12.31" height="5.38" fill="#ffffff"/>
<rect x="70.92" y="466.66" width="6.18" height="5.38" fill="#b4a8d4"/>
<rect x="77.05" y="466.66" width="6.18" height="5.38" fill="#fce6d6"/>
<rect x="83.18" y="466.66" width="6.18" height="5.38" fill="#ded8ec"/>
<rect x="89.31" y="466.66" width="12.31" height="5.38" fill="#b4a8d4"/>
<rect x="101.56" y="466.66" width="6.18" height="5.38" fill="#e37a5c"/>
<rect x="107.69" y="466.66" width="6.18" height="5.38" fill="#b4a8d4"/>
<rect x="113.82" y="466.66" width="6.18" height="5.38" fill="#e37a5c"/>
<rect x="119.95" y="466.66" width="6.18" height="5.38" fill="#d02d1e"/>
<rect x="126.08" y="466.66" width="6.18" height="5.38" fill="#ffffff"/>
<rect x="132.20" y="466.66" width="6.18" height="5.38" fill="#fce6d6"/>
<rect x="138.33" y="466.66" width="6.18" height="5.38" fill="#f2b9a0"/>
<rect x="144.46" y="466.66" width="12.31" height="5.38" fill="#ded8ec"/>
<rect x="156.72" y="466.66" width="6.18" height="5.38" fill="#e37a5c"/>
<rect x="162.84" y="466.66" width="6.18" height="5.38" fill="#fce6d6"/>
<rect x="168.97" y="466.66" width="6.18" height="5.38" fill="#b4a8d4"/>
<rect x="21.90" y="471.45" width="6.18" height="5.38" fill="#fce6d6"/>
<rect x="28.03" y="471.45" width="6.18" height="5.38" fill="#f2b9a0"/>
<rect x="34.16" y="471.45" width="6.18" height="5.38" fill="#2d1c80"/>
<rect x="40.28" y="471.45" width="12.31" height="5.38" fill="#b4a8d4"/>
<rect x="52.54" y="471.45" width="6.18" height="5.38" fill="#8070b4"/>
<rect x="58.67" y="471.45" width="6.18" height="5.38" fill="#f2b9a0"/>
<rect x="64.80" y="471.45" width="12.31" height="5.38" fill="#fce6d6"/>
<rect x="77.05" y="471.45" width="6.18" height="5.38" fill="#ffffff"/>
<rect x="83.18" y="471.45" width="6.18" height="5.38" fill="#8070b4"/>
<rect x="89.31" y="471.45" width="6.18" height="5.38" fill="#b4a8d4"/>
<rect x="95.44" y="471.45" width="24.56" height="5.38" fill="#ded8ec"/>
<rect x="119.95" y="471.45" width="6.18" height="5.38" fill="#f2b9a0"/>
<rect x="126.08" y="471.45" width="12.31" height="5.38" fill="#d02d1e"/>
<rect x="138.33" y="471.45" width="6.18" height="5.38" fill="#f2b9a0"/>
<rect x="144.46" y="471.45" width="6.18" height="5.38" fill="#b4a8d4"/>
<rect x="150.59" y="471.45" width="6.18" height="5.38" fill="#ded8ec"/>
<rect x="156.72" y="471.45" width="12.31" height="5.38" fill="#f2b9a0"/>
<rect x="168.97" y="471.45" width="6.18" height="5.38" fill="#b4a8d4"/>
<rect x="21.90" y="476.23" width="6.18" height="5.38" fill="#ffffff"/>
<rect x="28.03" y="476.23" width="6.18" height="5.38" fill="#2d1c80"/>
<rect x="34.16" y="476.23" width="18.43" height="5.38" fill="#b4a8d4"/>
<rect x="52.54" y="476.23" width="6.18" height="5.38" fill="#ded8ec"/>
<rect x="58.67" y="476.23" width="6.18" height="5.38" fill="#ffffff"/>
<rect x="64.80" y="476.23" width="6.18" height="5.38" fill="#b4a8d4"/>
<rect x="70.92" y="476.23" width="12.31" height="5.38" fill="#ffffff"/>
<rect x="83.18" y="476.23" width="6.18" height="5.38" fill="#d02d1e"/>
<rect x="89.31" y="476.23" width="6.18" height="5.38" fill="#ded8ec"/>
<rect x="95.44" y="476.23" width="6.18" height="5.38" fill="#ffffff"/>
<rect x="101.56" y="476.23" width="6.18" height="5.38" fill="#ded8ec"/>
<rect x="107.69" y="476.23" width="6.18" height="5.38" fill="#b4a8d4"/>
<rect x="113.82" y="476.23" width="6.18" height="5.38" fill="#f2b9a0"/>
<rect x="119.95" y="476.23" width="6.18" height="5.38" fill="#e37a5c"/>
<rect x="126.08" y="476.23" width="6.18" height="5.38" fill="#8070b4"/>
<rect x="132.20" y="476.23" width="6.18" height="5.38" fill="#d02d1e"/>
<rect x="138.33" y="476.23" width="6.18" height="5.38" fill="#e37a5c"/>
<rect x="144.46" y="476.23" width="6.18" height="5.38" fill="#b4a8d4"/>
<rect x="150.59" y="476.23" width="12.31" height="5.38" fill="#e37a5c"/>
<rect x="162.84" y="476.23" width="6.18" height="5.38" fill="#b4a8d4"/>
<rect x="168.97" y="476.23" width="6.18" height="5.38" fill="#ded8ec"/>
<rect x="21.90" y="481.02" width="24.56" height="4.83" fill="#b4a8d4"/>
<rect x="46.41" y="481.02" width="6.18" height="4.83" fill="#ded8ec"/>
<rect x="52.54" y="481.02" width="12.31" height="4.83" fill="#b4a8d4"/>
<rect x="64.80" y="481.02" width="6.18" height="4.83" fill="#ded8ec"/>
<rect x="70.92" y="481.02" width="6.18" height="4.83" fill="#b4a8d4"/>
<rect x="77.05" y="481.02" width="12.31" height="4.83" fill="#fce6d6"/>
<rect x="89.31" y="481.02" width="12.31" height="4.83" fill="#ded8ec"/>
<rect x="101.56" y="481.02" width="12.31" height="4.83" fill="#b4a8d4"/>
<rect x="113.82" y="481.02" width="12.31" height="4.83" fill="#f2b9a0"/>
<rect x="126.08" y="481.02" width="6.18" height="4.83" fill="#b4a8d4"/>
<rect x="132.20" y="481.02" width="6.18" height="4.83" fill="#e37a5c"/>
<rect x="138.33" y="481.02" width="6.18" height="4.83" fill="#ffffff"/>
<rect x="144.46" y="481.02" width="6.18" height="4.83" fill="#fce6d6"/>
<rect x="150.59" y="481.02" width="12.31" height="4.83" fill="#d02d1e"/>
<rect x="162.84" y="481.02" width="6.18" height="4.83" fill="#ded8ec"/>
<rect x="168.97" y="481.02" width="6.18" height="4.83" fill="#ffffff"/>
<rect x="10.3" y="127.00" width="7.6" height="4.83" fill="#e4821e"/>
<rect x="10.3" y="131.78" width="7.6" height="4.83" fill="#eebe2d"/>
<rect x="10.3" y="136.57" width="7.6" height="4.83" fill="#e4821e"/>
<rect x="10.3" y="141.35" width="7.6" height="4.83" fill="#691e73"/>
<rect x="10.3" y="146.14" width="7.6" height="9.62" fill="#b2324b"/>
<rect x="10.3" y="155.70" width="7.6" height="4.83" fill="#f8f096"/>
<rect x="10.3" y="160.49" width="7.6" height="4.83" fill="#b2324b"/>
<rect x="10.3" y="165.27" width="7.6" height="4.83" fill="#eebe2d"/>
<rect x="10.3" y="170.06" width="7.6" height="4.83" fill="#691e73"/>
<rect x="10.3" y="174.84" width="7.6" height="19.19" fill="#2d165a"/>
<rect x="10.3" y="193.98" width="7.6" height="9.62" fill="#b2324b"/>
<rect x="10.3" y="203.54" width="7.6" height="4.83" fill="#872364"/>
<rect x="10.3" y="208.33" width="7.6" height="9.62" fill="#0c081c"/>
<rect x="10.3" y="217.90" width="7.6" height="4.83" fill="#2d165a"/>
<rect x="10.3" y="222.68" width="7.6" height="4.83" fill="#0c081c"/>
<rect x="10.3" y="227.46" width="7.6" height="4.83" fill="#f8f096"/>
<rect x="10.3" y="232.25" width="7.6" height="4.83" fill="#691e73"/>
<rect x="10.3" y="237.03" width="7.6" height="9.62" fill="#e4821e"/>
<rect x="10.3" y="246.60" width="7.6" height="4.83" fill="#d75a2d"/>
<rect x="10.3" y="251.38" width="7.6" height="4.83" fill="#eebe2d"/>
<rect x="10.3" y="256.17" width="7.6" height="4.83" fill="#b2324b"/>
<rect x="10.3" y="260.95" width="7.6" height="4.83" fill="#d75a2d"/>
<rect x="10.3" y="265.74" width="7.6" height="4.83" fill="#691e73"/>
<rect x="10.3" y="270.52" width="7.6" height="4.83" fill="#b2324b"/>
<rect x="10.3" y="275.30" width="7.6" height="14.40" fill="#691e73"/>
<rect x="10.3" y="289.66" width="7.6" height="9.62" fill="#b2324b"/>
<rect x="10.3" y="299.22" width="7.6" height="4.83" fill="#d75a2d"/>
<rect x="10.3" y="304.01" width="7.6" height="4.83" fill="#872364"/>
<rect x="10.3" y="308.79" width="7.6" height="9.62" fill="#0c081c"/>
<rect x="10.3" y="318.36" width="7.6" height="4.83" fill="#f8f096"/>
<rect x="10.3" y="323.14" width="7.6" height="4.83" fill="#691e73"/>
<rect x="10.3" y="327.93" width="7.6" height="4.83" fill="#f8f096"/>
<rect x="10.3" y="332.71" width="7.6" height="4.83" fill="#2d165a"/>
<rect x="10.3" y="337.50" width="7.6" height="4.83" fill="#d75a2d"/>
<rect x="10.3" y="342.28" width="7.6" height="4.83" fill="#b2324b"/>
<rect x="10.3" y="347.06" width="7.6" height="4.83" fill="#d75a2d"/>
<rect x="10.3" y="351.85" width="7.6" height="4.83" fill="#2d165a"/>
<rect x="10.3" y="356.63" width="7.6" height="14.40" fill="#0c081c"/>
<rect x="10.3" y="370.98" width="7.6" height="9.62" fill="#2d165a"/>
<rect x="10.3" y="380.55" width="7.6" height="4.83" fill="#691e73"/>
<rect x="10.3" y="385.34" width="7.6" height="4.83" fill="#0c081c"/>
<rect x="10.3" y="390.12" width="7.6" height="4.83" fill="#691e73"/>
<rect x="10.3" y="394.90" width="7.6" height="4.83" fill="#d75a2d"/>
<rect x="10.3" y="399.69" width="7.6" height="4.83" fill="#b2324b"/>
<rect x="10.3" y="404.47" width="7.6" height="4.83" fill="#872364"/>
<rect x="10.3" y="409.26" width="7.6" height="4.83" fill="#2d165a"/>
<rect x="10.3" y="414.04" width="7.6" height="9.62" fill="#b2324b"/>
<rect x="10.3" y="423.61" width="7.6" height="4.83" fill="#2d165a"/>
<rect x="10.3" y="428.39" width="7.6" height="9.62" fill="#691e73"/>
<rect x="10.3" y="437.96" width="7.6" height="9.62" fill="#2d165a"/>
<rect x="10.3" y="447.53" width="7.6" height="4.83" fill="#872364"/>
<rect x="10.3" y="452.31" width="7.6" height="9.62" fill="#b2324b"/>
<rect x="10.3" y="461.88" width="7.6" height="4.83" fill="#f8f096"/>
<rect x="10.3" y="466.66" width="7.6" height="4.83" fill="#2d165a"/>
<rect x="10.3" y="471.45" width="7.6" height="4.83" fill="#d75a2d"/>
<rect x="10.3" y="476.23" width="7.6" height="4.83" fill="#b2324b"/>
<rect x="10.3" y="481.02" width="7.6" height="4.83" fill="#691e73"/>
<rect x="21.90" y="118.9" width="30.69" height="7.1" fill="#e8b923"/>
<rect x="52.54" y="118.9" width="30.69" height="7.1" fill="#a50f37"/>
<rect x="83.18" y="118.9" width="30.69" height="7.1" fill="#cb168c"/>
<rect x="113.82" y="118.9" width="30.69" height="7.1" fill="#57296f"/>
<rect x="144.46" y="118.9" width="30.69" height="7.1" fill="#e08a1e"/>
<path d="M37.22 114.40L43.35 114.40 M37.22 114.40L37.22 118.90 M43.35 114.40L43.35 118.90 M31.09 113.00L40.28 113.00 M31.09 113.00L31.09 118.90 M40.28 113.00L40.28 114.40 M24.96 112.50L35.69 112.50 M24.96 112.50L24.96 118.90 M35.69 112.50L35.69 113.00 M30.33 111.60L49.48 111.60 M30.33 111.60L30.33 112.50 M49.48 111.60L49.48 118.90 M55.60 112.40L61.73 112.40 M55.60 112.40L55.60 118.90 M61.73 112.40L61.73 118.90 M73.99 114.30L80.12 114.30 M73.99 114.30L73.99 118.90 M80.12 114.30L80.12 118.90 M67.86 113.00L77.05 113.00 M67.86 113.00L67.86 118.90 M77.05 113.00L77.05 114.30 M58.67 112.00L72.46 112.00 M58.67 112.00L58.67 112.40 M72.46 112.00L72.46 113.00 M39.90 107.60L65.56 107.60 M39.90 107.60L39.90 111.60 M65.56 107.60L65.56 112.00 M86.24 113.50L92.37 113.50 M86.24 113.50L86.24 118.90 M92.37 113.50L92.37 118.90 M98.50 113.50L104.63 113.50 M98.50 113.50L98.50 118.90 M104.63 113.50L104.63 118.90 M101.56 110.70L110.76 110.70 M101.56 110.70L101.56 113.50 M110.76 110.70L110.76 118.90 M89.31 110.40L106.16 110.40 M89.31 110.40L89.31 113.50 M106.16 110.40L106.16 110.70 M116.88 111.80L123.01 111.80 M116.88 111.80L116.88 118.90 M123.01 111.80L123.01 118.90 M135.27 114.50L141.40 114.50 M135.27 114.50L135.27 118.90 M141.40 114.50L141.40 118.90 M129.14 113.50L138.33 113.50 M129.14 113.50L129.14 118.90 M138.33 113.50L138.33 114.50 M119.95 110.40L133.74 110.40 M119.95 110.40L119.95 111.80 M133.74 110.40L133.74 113.50 M147.52 112.80L153.65 112.80 M147.52 112.80L147.52 118.90 M153.65 112.80L153.65 118.90 M159.78 113.20L165.91 113.20 M159.78 113.20L159.78 118.90 M165.91 113.20L165.91 118.90 M150.59 112.30L162.84 112.30 M150.59 112.30L150.59 112.80 M162.84 112.30L162.84 113.20 M156.72 110.40L172.04 110.40 M156.72 110.40L156.72 112.30 M172.04 110.40L172.04 118.90 M126.84 107.80L164.38 107.80 M126.84 107.80L126.84 110.40 M164.38 107.80L164.38 110.40 M97.73 105.20L145.61 105.20 M97.73 105.20L97.73 110.40 M145.61 105.20L145.61 107.80 M52.73 104.30L121.67 104.30 M52.73 104.30L52.73 107.60 M121.67 104.30L121.67 105.20" stroke="#1a1a1a" stroke-width="0.9" fill="none" stroke-linecap="square"/>
<ellipse cx="346.97" cy="120.52" rx="93.53" ry="48.05" transform="rotate(107.55 346.97 120.52)" fill="#d98f24" fill-opacity="0.26" stroke="#d98f24" stroke-opacity="0.12" stroke-width="0.8"/>
<ellipse cx="372.26" cy="138.15" rx="93.53" ry="48.05" transform="rotate(179.55 372.26 138.15)" fill="#e8b62b" fill-opacity="0.26" stroke="#e8b62b" stroke-opacity="0.12" stroke-width="0.8"/>
<ellipse cx="363.30" cy="167.66" rx="93.53" ry="48.05" transform="rotate(251.55 363.30 167.66)" fill="#c50578" fill-opacity="0.26" stroke="#c50578" stroke-opacity="0.12" stroke-width="0.8"/>
<ellipse cx="322.38" cy="139.12" rx="93.53" ry="48.05" transform="rotate(395.55 322.38 139.12)" fill="#a7092f" fill-opacity="0.26" stroke="#a7092f" stroke-opacity="0.12" stroke-width="0.8"/>
<ellipse cx="332.48" cy="168.25" rx="93.53" ry="48.05" transform="rotate(323.55 332.48 168.25)" fill="#612f71" fill-opacity="0.26" stroke="#612f71" stroke-opacity="0.12" stroke-width="0.8"/>
<text transform="translate(313.20 93.65) scale(0.9 1)" class="n">0</text>
<text transform="translate(325.60 93.65) scale(0.9 1)" class="n">2</text>
<text transform="translate(343.10 87.45) scale(0.9 1)" class="n">2</text>
<text transform="translate(362.00 99.55) scale(0.9 1)" class="n">1</text>
<text transform="translate(390.80 100.15) scale(0.9 1)" class="n">0</text>
<text transform="translate(328.90 108.25) scale(0.9 1)" class="n">0</text>
<text transform="translate(381.90 117.65) scale(0.9 1)" class="n">2</text>
<text transform="translate(395.10 113.85) scale(0.9 1)" class="n">1</text>
<text transform="translate(304.60 120.35) scale(0.9 1)" class="n">1</text>
<text transform="translate(406.90 129.25) scale(0.9 1)" class="n">0</text>
<text transform="translate(287.10 133.75) scale(0.9 1)" class="n">1</text>
<text transform="translate(346.90 150.05) scale(0.9 1)" class="n">0</text>
<text transform="translate(400.40 147.05) scale(0.9 1)" class="n">0</text>
<text transform="translate(287.00 153.05) scale(0.9 1)" class="n">1</text>
<text transform="translate(300.60 154.05) scale(0.9 1)" class="n">0</text>
<text transform="translate(281.90 164.15) scale(0.9 1)" class="n">0</text>
<text transform="translate(387.80 170.75) scale(0.9 1)" class="n">0</text>
<text transform="translate(409.70 176.05) scale(0.9 1)" class="n">0</text>
<text transform="translate(304.60 181.35) scale(0.9 1)" class="n">0</text>
<text transform="translate(398.00 183.05) scale(0.9 1)" class="n">0</text>
<text transform="translate(335.80 194.45) scale(0.9 1)" class="n">2</text>
<text transform="translate(310.50 201.55) scale(0.9 1)" class="n">1</text>
<text transform="translate(363.60 200.45) scale(0.9 1)" class="n">1</text>
<text transform="translate(387.30 198.45) scale(0.9 1)" class="n">0</text>
<text transform="translate(330.80 207.55) scale(0.9 1)" class="n">4</text>
<text transform="translate(341.00 215.45) scale(0.9 1)" class="n">0</text>
<text transform="translate(367.50 64.05) scale(0.9 1)" class="n">7</text>
<text transform="translate(436.00 140.65) scale(0.9 1)" class="n">15</text>
<text transform="translate(384.50 231.75) scale(0.9 1)" class="n">13</text>
<text transform="translate(280.70 208.75) scale(0.9 1)" class="n">5</text>
<text transform="translate(266.00 108.95) scale(0.9 1)" class="n">16</text>
<text x="367.9" y="50.9" class="vl" fill="#e1912a" textLength="30.2" lengthAdjust="spacingAndGlyphs">HOXA</text>
<text x="435.65" y="127.6" class="vl" fill="#e6b41e" textLength="20.5" lengthAdjust="spacingAndGlyphs">IMM</text>
<text x="384.3" y="217.7" class="vl" fill="#c8198c" textLength="42.6" lengthAdjust="spacingAndGlyphs">TAL-LMO</text>
<text x="279.7" y="195.3" class="vl" fill="#69378c" textLength="22.4" lengthAdjust="spacingAndGlyphs">TLX1</text>
<text x="266.85" y="95.9" class="vl" fill="#be1941" textLength="24.3" lengthAdjust="spacingAndGlyphs">TLX3</text>
<rect x="196.5" y="279.9" width="100.0" height="149.8" fill="#faeecb" stroke="#e8b923" stroke-width="1.6" rx="1"/>
<rect x="195.7" y="279.1" width="101.6" height="12.2" fill="#e8b923"/>
<text x="246.5" y="288.0" class="bh" textLength="23.400000000000002" lengthAdjust="spacingAndGlyphs">IMM</text>
<text transform="translate(246.50 302.40) scale(1.09 1)" class="bt">circZNF609</text>
<text transform="translate(246.50 316.11) scale(1.09 1)" class="bt">circCEP70</text>
<text transform="translate(246.50 329.82) scale(1.09 1)" class="bt">circSHOC2</text>
<text transform="translate(246.50 343.53) scale(1.09 1)" class="bt">circKPNA5(2-4)</text>
<text transform="translate(246.50 357.24) scale(1.09 1)" class="bt">circHPS5</text>
<text transform="translate(246.50 370.95) scale(1.09 1)" class="bt">circCORO1C</text>
<text transform="translate(246.50 384.66) scale(1.09 1)" class="bt">circPSEN1</text>
<text transform="translate(246.50 398.37) scale(1.09 1)" class="bt">circKMT2C</text>
<text transform="translate(246.50 412.08) scale(1.09 1)" class="bt">circITPR2</text>
<text transform="translate(246.50 425.79) scale(1.09 1)" class="bt">circATXN10(i9-10)</text>
<rect x="303.3" y="279.8" width="99.8" height="205.2" fill="#e4c8be" stroke="#a8123c" stroke-width="1.6" rx="1"/>
<rect x="302.5" y="279.0" width="101.4" height="12.2" fill="#a8123c"/>
<text x="353.2" y="287.9" class="bh" textLength="25.6" lengthAdjust="spacingAndGlyphs">TLX3</text>
<text transform="translate(353.20 302.30) scale(1.09 1)" class="bt">circESYT2(4-8)</text>
<text transform="translate(353.20 315.92) scale(1.09 1)" class="bt">circTASP1(5-8)</text>
<text transform="translate(353.20 329.54) scale(1.09 1)" class="bt">circZBTB44</text>
<text transform="translate(353.20 343.16) scale(1.09 1)" class="bt">circKDM1A(2-9)</text>
<text transform="translate(353.20 356.78) scale(1.09 1)" class="bt">circASH1L</text>
<text transform="translate(353.20 370.40) scale(1.09 1)" class="bt">circTASP1(4-7)</text>
<text transform="translate(353.20 384.02) scale(1.09 1)" class="bt">circBACH1</text>
<text transform="translate(353.20 397.64) scale(1.09 1)" class="bt">circGPBP1</text>
<text transform="translate(353.20 411.26) scale(1.09 1)" class="bt">circZNF544</text>
<text transform="translate(353.20 424.88) scale(1.09 1)" class="bt">circERC1</text>
<text transform="translate(353.20 438.50) scale(1.09 1)" class="bt">circTNRC6C</text>
<text transform="translate(353.20 452.12) scale(1.09 1)" class="bt">circIGF2R</text>
<text transform="translate(353.20 465.74) scale(1.09 1)" class="bt">circTASP1(8-10)</text>
<text transform="translate(353.20 479.36) scale(1.09 1)" class="bt">circRBM39</text>
<rect x="410.0" y="279.9" width="100.5" height="109.6" fill="#f1d5e8" stroke="#c5147f" stroke-width="1.6" rx="1"/>
<rect x="409.2" y="279.1" width="102.1" height="12.2" fill="#c5147f"/>
<text x="460.2" y="288.0" class="bh" textLength="46.5" lengthAdjust="spacingAndGlyphs">TAL-LMO</text>
<text transform="translate(460.25 302.40) scale(1.09 1)" class="bt">circCASC15(4)</text>
<text transform="translate(460.25 316.12) scale(1.09 1)" class="bt">circCEP128(16-19)</text>
<text transform="translate(460.25 329.84) scale(1.09 1)" class="bt">circPLEKHM1</text>
<text transform="translate(460.25 343.56) scale(1.09 1)" class="bt">circCASC15(5-6)</text>
<text transform="translate(460.25 357.28) scale(1.09 1)" class="bt">circGRAMD4</text>
<text transform="translate(460.25 371.00) scale(1.09 1)" class="bt">circNSD2</text>
<text transform="translate(460.25 384.72) scale(1.09 1)" class="bt">circPOLR2A</text>
<rect x="196.4" y="444.8" width="100.0" height="40.6" fill="#d3c8de" stroke="#4e2a6e" stroke-width="1.6" rx="1"/>
<rect x="195.6" y="444.0" width="101.6" height="12.2" fill="#4e2a6e"/>
<text x="246.4" y="452.9" class="bh" textLength="24.200000000000003" lengthAdjust="spacingAndGlyphs">TLX1</text>
<text transform="translate(246.40 467.30) scale(1.09 1)" class="bt">circCEP128(3-6)</text>
<text transform="translate(246.40 480.90) scale(1.09 1)" class="bt">circZGRF1</text>
<rect x="410.2" y="417.8" width="99.7" height="68.0" fill="#f9e3c6" stroke="#df8b1f" stroke-width="1.6" rx="1"/>
<rect x="409.4" y="417.0" width="101.3" height="12.2" fill="#df8b1f"/>
<text x="460.0" y="425.9" class="bh" textLength="31.400000000000002" lengthAdjust="spacingAndGlyphs">HOXA</text>
<text transform="translate(460.05 440.30) scale(1.09 1)" class="bt">circNFATC3(2-3)</text>
<text transform="translate(460.05 453.90) scale(1.09 1)" class="bt">circSTAM</text>
<text transform="translate(460.05 467.50) scale(1.09 1)" class="bt">circHACD1</text>
<text transform="translate(460.05 481.10) scale(1.09 1)" class="bt">circTBC1D31</text>
<rect x="0" y="0" width="520" height="1" fill="#000"/><rect x="0" y="1" width="520" height="0.7" fill="#000" opacity="0.6"/>
<rect x="0" y="0" width="1" height="496" fill="#000"/><rect x="1" y="0" width="0.7" height="496" fill="#000" opacity="0.6"/>
<rect x="519" y="0" width="1" height="496" fill="#000"/><rect x="518.2" y="0" width="0.8" height="496" fill="#000" opacity="0.6"/>
<rect x="0" y="495" width="520" height="1" fill="#000"/><rect x="0" y="494" width="520" height="1" fill="#000" opacity="0.75"/>
</svg>
</body></html>
